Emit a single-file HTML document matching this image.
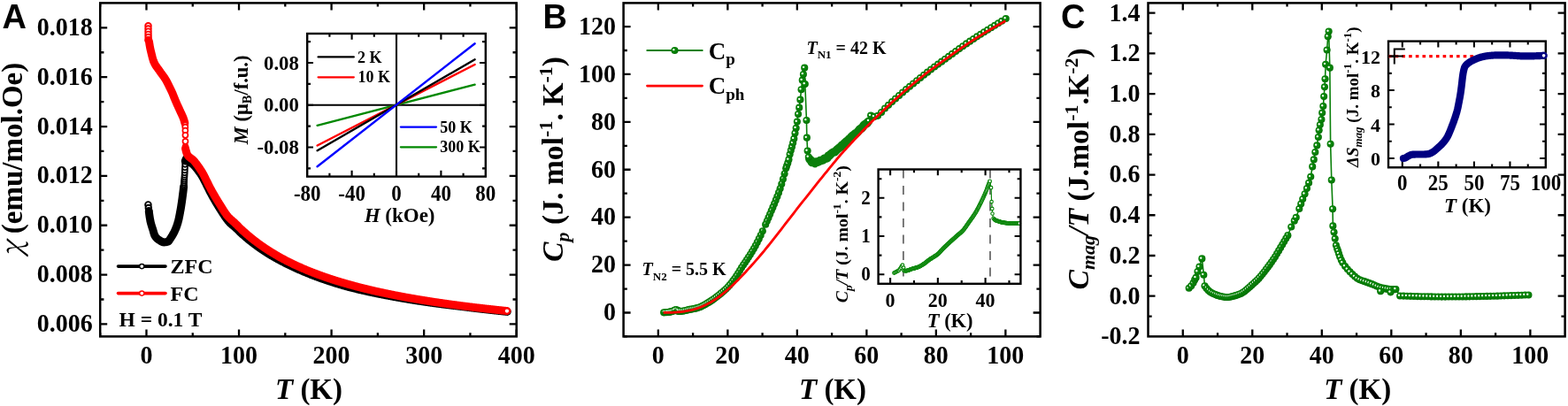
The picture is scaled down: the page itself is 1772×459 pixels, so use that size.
<!DOCTYPE html><html><head><meta charset="utf-8"><title>Figure</title><style>html,body{margin:0;padding:0;background:#fff;overflow:hidden}svg{display:block}</style></head><body><svg width="1772" height="459" viewBox="0 0 1772 459">
<defs><radialGradient id="sb" cx="0.45" cy="0.42" r="0.6"><stop offset="0" stop-color="#0d8f0d"/><stop offset="0.7" stop-color="#077d07"/><stop offset="1" stop-color="#036803"/></radialGradient><radialGradient id="sh"><stop offset="0" stop-color="#fff"/><stop offset="0.45" stop-color="#fff" stop-opacity="0.95"/><stop offset="1" stop-color="#fff" stop-opacity="0"/></radialGradient><symbol id="s" overflow="visible"><circle r="4.05" fill="url(#sb)"/><circle cx="-1.15" cy="-0.8" r="1.65" fill="url(#sh)"/></symbol><symbol id="b" overflow="visible"><circle r="4.05" fill="url(#sb)"/></symbol><symbol id="h" overflow="visible"><ellipse cx="-1.0" cy="-1.5" rx="0.5" ry="1.05" fill="#fff" fill-opacity="0.92" transform="rotate(15 -1.0 -1.5)"/></symbol><symbol id="t" overflow="visible"><circle r="1.75" fill="#fff" stroke="#0b870b" stroke-width="1.15"/></symbol></defs>
<rect width="1772" height="459" fill="#fff"/>
<g fill="#fff" stroke="#000" stroke-width="1.9"><circle cx="167.46" cy="231.4" r="3.3"/><circle cx="167.83" cy="235.02" r="3.3"/><circle cx="168.2" cy="238.32" r="3.3"/></g>
<path d="M168.3 239.18L168.51 240.79L168.72 242.34L168.93 243.83L169.14 245.25L169.35 246.59L169.56 247.84L169.76 248.98L169.97 250L170.18 250.93L170.39 251.8L170.6 252.61L170.81 253.39L171.02 254.12L171.23 254.82L171.44 255.49L171.65 256.14L171.86 256.78L172.06 257.42L172.27 258.05L172.48 258.68L172.69 259.33L172.9 260L173.11 260.7L173.32 261.44L173.53 262.19L173.74 262.94L173.95 263.67L174.16 264.37L174.37 265.02L174.57 265.61L174.78 266.1L174.99 266.5L175.2 266.83L175.41 267.15L175.62 267.45L175.83 267.74L176.04 268.02L176.25 268.28L176.46 268.53L176.67 268.77L176.87 269L177.08 269.22L177.29 269.42L177.5 269.62L177.71 269.81L177.92 270L178.13 270.17L178.34 270.34L178.55 270.5L178.76 270.66L178.97 270.81L179.17 270.95L179.38 271.09L179.59 271.23L179.8 271.37L180.01 271.5L180.22 271.63L180.43 271.77L180.64 271.9L180.85 272.04L181.06 272.17L181.27 272.31L181.47 272.44L181.68 272.57L181.89 272.69L182.1 272.82L182.31 272.94L182.52 273.06L182.73 273.17L182.94 273.27L183.15 273.37L183.36 273.46L183.57 273.55L183.78 273.63L183.98 273.7L184.19 273.76L184.4 273.81L184.61 273.85L184.82 273.88L185.03 273.89L185.24 273.9L185.45 273.9L185.66 273.89L185.87 273.88L186.08 273.87L186.28 273.85L186.49 273.84L186.7 273.81L186.91 273.79L187.12 273.76L187.33 273.72L187.54 273.69L187.75 273.65L187.96 273.6L188.17 273.56L188.38 273.51L188.58 273.45L188.79 273.4L189 273.34L189.21 273.28L189.42 273.21L189.63 273.14L189.84 273.07L190.05 273L190.26 272.89L190.47 272.73L190.68 272.52L190.88 272.26L191.09 271.97L191.3 271.66L191.51 271.33L191.72 270.99L191.93 270.65L192.14 270.32L192.35 270L192.56 269.69L192.77 269.38L192.98 269.07L193.19 268.75L193.39 268.43L193.6 268.11L193.81 267.78L194.02 267.45L194.23 267.11L194.44 266.77L194.65 266.43L194.86 266.08L195.07 265.72L195.28 265.36L195.49 265L195.69 264.62L195.9 264.24L196.11 263.85L196.32 263.46L196.53 263.06L196.74 262.64L196.95 262.23L197.16 261.8L197.37 261.36L197.58 260.92L197.79 260.46L197.99 260L198.2 259.52L198.41 259.03L198.62 258.53L198.83 258.01L199.04 257.48L199.25 256.92L199.46 256.36L199.67 255.77L199.88 255.17L200.09 254.54L200.29 253.9L200.5 253.24L200.71 252.56L200.92 251.85L201.13 251.13L201.34 250.38L201.55 249.61L201.76 248.77L201.97 247.88L202.18 246.93L202.39 245.94L202.6 244.91L202.8 243.85L203.01 242.77L203.22 241.67L203.43 240.56L203.64 239.44L203.85 238.29L204.06 237.11L204.27 235.89L204.48 234.64L204.69 233.36L204.9 232.04L205.1 230.69L205.31 229.3L205.52 227.86L205.73 226.38L205.94 224.85L206.15 223.27L206.36 221.65L206.57 220L206.78 218.35L206.99 216.69L207.2 214.97L207.4 213.12L207.61 211.1" fill="none" stroke="#000" stroke-width="9" stroke-linecap="round" stroke-linejoin="round"/>
<g fill="#fff" stroke="#000" stroke-width="1.7"><circle cx="207.72" cy="210" r="3.0"/><circle cx="207.86" cy="208.37" r="3.0"/><circle cx="208" cy="206.57" r="3.0"/><circle cx="208.15" cy="204.62" r="3.0"/><circle cx="208.29" cy="202.53" r="3.0"/><circle cx="208.43" cy="200.3" r="3.0"/><circle cx="208.57" cy="197.92" r="3.0"/><circle cx="208.72" cy="195.3" r="3.0"/><circle cx="208.86" cy="192.45" r="3.0"/><circle cx="209" cy="189.36" r="3.0"/><circle cx="209.14" cy="185.86" r="3.0"/><circle cx="209.29" cy="182" r="3.0"/></g>
<path d="M210.44 179.67L210.96 180.73L211.48 181.52L212.01 182.06L212.53 182.41L213.05 182.55L213.57 182.68L214.1 182.97L214.62 183.39L215.14 183.85L215.66 184.26L216.19 184.6L216.71 184.9L217.23 185.21L217.76 185.58L218.28 186.01L218.8 186.51L219.32 187.05L219.85 187.63L220.37 188.22L220.89 188.83L221.42 189.44L221.94 190.09L222.46 190.75L222.98 191.44L223.51 192.14L224.03 192.84L224.55 193.55L225.07 194.26L225.6 194.97L226.12 195.7L226.64 196.44L227.17 197.21L227.69 198.01L228.21 198.84L228.73 199.72L229.26 200.65L229.78 201.62L230.3 202.62L230.83 203.65L231.35 204.69L231.87 205.74L232.39 206.79L232.92 207.83L233.44 208.86L233.96 209.88L234.48 210.92L235.01 211.97L235.53 213.03L236.05 214.08L236.58 215.13L237.1 216.17L237.62 217.2L238.14 218.2L238.67 219.17L239.19 220.13L239.71 221.08L240.24 222.03L240.76 222.96L241.28 223.89L241.8 224.81L242.33 225.72L242.85 226.63L243.37 227.53L243.89 228.41L244.42 229.3L244.94 230.17L245.46 231.04L245.99 231.9L246.51 232.75L247.03 233.59L247.55 234.42L248.08 235.25L248.6 236.07L249.12 236.88L249.65 237.69L250.17 238.5L250.69 239.31L251.21 240.13L251.74 240.94L252.26 241.75L252.78 242.55L253.3 243.35L253.83 244.13L254.35 244.91L254.87 245.67L255.4 246.42L255.92 247.15L256.44 247.87L256.96 248.56L257.49 249.23L258.01 249.88L258.53 250.51L259.06 251.1L259.58 251.67L260.1 252.21L260.62 252.71L261.15 253.19L261.67 253.64L262.19 254.08L262.71 254.51L263.24 254.93L263.76 255.35L264.28 255.78L264.81 256.21L265.33 256.66L265.85 257.13L266.37 257.61L266.9 258.11L267.42 258.61L267.94 259.12L268.47 259.63L268.99 260.15L269.51 260.67L270.03 261.19L270.56 261.7L271.08 262.2L271.6 262.7L272.12 263.19L272.65 263.67L273.17 264.15L273.69 264.62L274.22 265.1L274.74 265.56L275.26 266.03L275.78 266.49L276.31 266.95L276.83 267.4L277.35 267.85L277.88 268.3L278.4 268.74L278.92 269.18L279.44 269.62L279.97 270.06L280.49 270.49L281.01 270.92L281.53 271.35L282.06 271.77L282.58 272.19L283.1 272.61L283.63 273.02L284.15 273.43L284.67 273.84L285.19 274.25L285.72 274.65L286.24 275.05L286.76 275.45L287.29 275.85L287.81 276.24L288.33 276.63L288.85 277.02L289.38 277.4L289.9 277.78L290.42 278.16L290.94 278.54L291.47 278.92L291.99 279.29L292.51 279.66L293.04 280.03L293.56 280.39L294.08 280.76L294.6 281.12L295.13 281.48L295.65 281.83L296.17 282.18L296.7 282.54L297.22 282.89L297.74 283.23L298.26 283.58L298.79 283.92L299.31 284.26L299.83 284.6L300.35 284.94L300.88 285.27L301.4 285.6L301.92 285.93L302.45 286.26L302.97 286.59L303.49 286.91L304.01 287.23L304.54 287.55L305.06 287.87L305.58 288.19L306.11 288.5L306.63 288.81L307.15 289.13L307.67 289.43L308.2 289.74L308.72 290.05L309.24 290.35L309.76 290.65L310.29 290.95L310.81 291.25L311.33 291.54L311.86 291.84L312.38 292.13L312.9 292.42L313.42 292.71L313.95 293L314.47 293.28L314.99 293.57L315.52 293.85L316.04 294.13L316.56 294.41L317.08 294.69L317.61 294.97L318.13 295.24L318.65 295.51L319.17 295.79L319.7 296.06L320.22 296.32L320.74 296.59L321.27 296.86L321.79 297.12L322.31 297.38L322.83 297.64L323.36 297.9L323.88 298.16L324.4 298.41L324.93 298.67L325.45 298.92L325.97 299.17L326.49 299.42L327.02 299.67L327.54 299.92L328.06 300.17L328.58 300.42L329.11 300.67L329.63 300.92L330.15 301.17L330.68 301.42L331.2 301.67L331.72 301.91L332.24 302.16L332.77 302.4L333.29 302.65L333.81 302.89L334.34 303.13L334.86 303.37L335.38 303.61L335.9 303.85L336.43 304.08L336.95 304.32L337.47 304.55L337.99 304.79L338.52 305.02L339.04 305.25L339.56 305.48L340.09 305.71L340.61 305.94L341.13 306.17L341.65 306.39L342.18 306.62L342.7 306.84L343.22 307.06L343.75 307.28L344.27 307.5L344.79 307.72L345.31 307.94L345.84 308.16L346.36 308.37L346.88 308.59L347.4 308.8L347.93 309.01L348.45 309.23L348.97 309.44L349.5 309.65L350.02 309.86L350.54 310.06L351.06 310.27L351.59 310.48L352.11 310.68L352.63 310.88L353.16 311.09L353.68 311.29L354.2 311.49L354.72 311.69L355.25 311.89L355.77 312.09L356.29 312.29L356.81 312.48L357.34 312.68L357.86 312.87L358.38 313.07L358.91 313.26L359.43 313.45L359.95 313.64L360.47 313.83L361 314.02L361.52 314.21L362.04 314.4L362.57 314.59L363.09 314.77L363.61 314.96L364.13 315.14L364.66 315.33L365.18 315.51L365.7 315.69L366.22 315.87L366.75 316.05L367.27 316.23L367.79 316.41L368.32 316.59L368.84 316.77L369.36 316.94L369.88 317.12L370.41 317.29L370.93 317.47L371.45 317.64L371.98 317.81L372.5 317.99L373.02 318.16L373.54 318.33L374.07 318.5L374.59 318.67L375.11 318.84L375.63 319L376.16 319.17L376.68 319.34L377.2 319.5L377.73 319.67L378.25 319.83L378.77 319.99L379.29 320.16L379.82 320.32L380.34 320.48L380.86 320.64L381.39 320.8L381.91 320.96L382.43 321.12L382.95 321.28L383.48 321.44L384 321.59L384.52 321.75L385.04 321.9L385.57 322.06L386.09 322.21L386.61 322.37L387.14 322.52L387.66 322.67L388.18 322.82L388.7 322.97L389.23 323.12L389.75 323.27L390.27 323.42L390.8 323.56L391.32 323.7L391.84 323.85L392.36 323.99L392.89 324.13L393.41 324.26L393.93 324.4L394.45 324.53L394.98 324.67L395.5 324.8L396.02 324.94L396.55 325.07L397.07 325.2L397.59 325.33L398.11 325.47L398.64 325.6L399.16 325.73L399.68 325.86L400.21 325.99L400.73 326.12L401.25 326.25L401.77 326.37L402.3 326.5L402.82 326.63L403.34 326.76L403.86 326.88L404.39 327.01L404.91 327.13L405.43 327.26L405.96 327.38L406.48 327.51L407 327.63L407.52 327.75L408.05 327.87L408.57 328L409.09 328.12L409.62 328.24L410.14 328.36L410.66 328.48L411.18 328.6L411.71 328.72L412.23 328.83L412.75 328.95L413.27 329.07L413.8 329.19L414.32 329.3L414.84 329.42L415.37 329.53L415.89 329.65L416.41 329.76L416.93 329.88L417.46 329.99L417.98 330.1L418.5 330.22L419.03 330.33L419.55 330.44L420.07 330.55L420.59 330.66L421.12 330.77L421.64 330.89L422.16 330.99L422.68 331.1L423.21 331.21L423.73 331.32L424.25 331.43L424.78 331.54L425.3 331.64L425.82 331.75L426.34 331.86L426.87 331.96L427.39 332.07L427.91 332.18L428.44 332.28L428.96 332.38L429.48 332.49L430 332.59L430.53 332.7L431.05 332.8L431.57 332.9L432.09 333L432.62 333.1L433.14 333.21L433.66 333.31L434.19 333.41L434.71 333.51L435.23 333.61L435.75 333.71L436.28 333.81L436.8 333.91L437.32 334L437.85 334.1L438.37 334.2L438.89 334.3L439.41 334.39L439.94 334.49L440.46 334.59L440.98 334.69L441.5 334.78L442.03 334.88L442.55 334.98L443.07 335.07L443.6 335.17L444.12 335.27L444.64 335.36L445.16 335.46L445.69 335.56L446.21 335.65L446.73 335.75L447.26 335.84L447.78 335.94L448.3 336.03L448.82 336.12L449.35 336.22L449.87 336.31L450.39 336.4L450.91 336.5L451.44 336.59L451.96 336.68L452.48 336.77L453.01 336.86L453.53 336.95L454.05 337.04L454.57 337.13L455.1 337.22L455.62 337.31L456.14 337.4L456.67 337.49L457.19 337.58L457.71 337.67L458.23 337.76L458.76 337.84L459.28 337.93L459.8 338.02L460.32 338.11L460.85 338.19L461.37 338.28L461.89 338.36L462.42 338.45L462.94 338.54L463.46 338.62L463.98 338.71L464.51 338.79L465.03 338.87L465.55 338.96L466.08 339.04L466.6 339.12L467.12 339.21L467.64 339.29L468.17 339.37L468.69 339.46L469.21 339.54L469.73 339.62L470.26 339.7L470.78 339.78L471.3 339.86L471.83 339.94L472.35 340.02L472.87 340.1L473.39 340.18L473.92 340.26L474.44 340.34L474.96 340.42L475.49 340.5L476.01 340.58L476.53 340.66L477.05 340.74L477.58 340.81L478.1 340.89L478.62 340.97L479.14 341.05L479.67 341.12L480.19 341.2L480.71 341.27L481.24 341.35L481.76 341.43L482.28 341.5L482.8 341.58L483.33 341.65L483.85 341.73L484.37 341.8L484.9 341.88L485.42 341.95L485.94 342.02L486.46 342.1L486.99 342.17L487.51 342.24L488.03 342.32L488.55 342.39L489.08 342.46L489.6 342.53L490.12 342.6L490.65 342.68L491.17 342.75L491.69 342.82L492.21 342.89L492.74 342.96L493.26 343.03L493.78 343.1L494.31 343.17L494.83 343.24L495.35 343.3L495.87 343.37L496.4 343.44L496.92 343.51L497.44 343.58L497.96 343.65L498.49 343.71L499.01 343.78L499.53 343.85L500.06 343.91L500.58 343.98L501.1 344.05L501.62 344.11L502.15 344.18L502.67 344.25L503.19 344.31L503.72 344.38L504.24 344.44L504.76 344.51L505.28 344.57L505.81 344.64L506.33 344.7L506.85 344.77L507.37 344.83L507.9 344.89L508.42 344.96L508.94 345.02L509.47 345.08L509.99 345.15L510.51 345.21L511.03 345.27L511.56 345.33L512.08 345.4L512.6 345.46L513.13 345.52L513.65 345.58L514.17 345.64L514.69 345.7L515.22 345.76L515.74 345.83L516.26 345.89L516.78 345.95L517.31 346.01L517.83 346.07L518.35 346.13L518.88 346.2L519.4 346.26L519.92 346.32L520.44 346.38L520.97 346.44L521.49 346.51L522.01 346.57L522.54 346.63L523.06 346.7L523.58 346.76L524.1 346.83L524.63 346.89L525.15 346.96L525.67 347.02L526.19 347.09L526.72 347.16L527.24 347.22L527.76 347.29L528.29 347.35L528.81 347.42L529.33 347.48L529.85 347.55L530.38 347.61L530.9 347.68L531.42 347.74L531.95 347.8L532.47 347.87L532.99 347.93L533.51 348L534.04 348.06L534.56 348.12L535.08 348.18L535.6 348.25L536.13 348.31L536.65 348.37L537.17 348.43L537.7 348.5L538.22 348.56L538.74 348.62L539.26 348.68L539.79 348.74L540.31 348.81L540.83 348.87L541.36 348.93L541.88 348.99L542.4 349.05L542.92 349.11L543.45 349.17L543.97 349.23L544.49 349.29L545.01 349.35L545.54 349.41L546.06 349.47L546.58 349.53L547.11 349.59L547.63 349.65L548.15 349.71L548.67 349.77L549.2 349.82L549.72 349.88L550.24 349.94L550.77 350L551.29 350.06L551.81 350.12L552.33 350.17L552.86 350.23L553.38 350.29L553.9 350.35L554.42 350.4L554.95 350.46L555.47 350.52L555.99 350.58L556.52 350.63L557.04 350.69L557.56 350.75L558.08 350.8L558.61 350.86L559.13 350.91L559.65 350.97L560.18 351.03L560.7 351.08L561.22 351.14L561.74 351.19L562.27 351.25L562.79 351.3L563.31 351.36L563.83 351.41L564.36 351.47L564.88 351.52L565.4 351.58L565.93 351.63L566.45 351.69L566.97 351.74L567.49 351.79L568.02 351.85L568.54 351.9L569.06 351.95L569.59 352.01L570.11 352.06L570.63 352.11L571.15 352.17L571.68 352.22L572.2 352.27L572.72 352.33L573.24 352.38" fill="none" stroke="#000" stroke-width="9" stroke-linecap="round" stroke-linejoin="round"/>
<path d="M209.29 182L210.44 179.67" fill="none" stroke="#000" stroke-width="9" stroke-linecap="round" stroke-linejoin="round"/>
<g fill="#fff" stroke="#000" stroke-width="1.7"><circle cx="573.24" cy="352.38" r="3.0"/></g>
<g fill="#fff" stroke="#f00" stroke-width="1.9"><circle cx="167.52" cy="29.3" r="3.3"/><circle cx="167.52" cy="32.5" r="3.3"/><circle cx="167.54" cy="35.7" r="3.3"/><circle cx="167.56" cy="38.9" r="3.3"/><circle cx="167.62" cy="42.1" r="3.3"/><circle cx="167.78" cy="45.3" r="3.3"/></g>
<path d="M167.78 45.3L168.51 47.3L168.72 48.68L168.93 50L169.14 51.28L169.35 52.46L169.56 53.57L169.76 54.61L169.97 55.59L170.18 56.52L170.39 57.42L170.6 58.29L170.81 59.14L171.02 60L171.23 60.86L171.44 61.72L171.65 62.57L171.86 63.41L172.06 64.24L172.27 65.05L172.48 65.83L172.69 66.59L172.9 67.31L173.11 67.99L173.32 68.63L173.53 69.22L173.74 69.75L173.95 70.24L174.16 70.7L174.37 71.14L174.57 71.57L174.78 71.98L174.99 72.37L175.2 72.75L175.41 73.12L175.62 73.48L175.83 73.82L176.04 74.16L176.25 74.48L176.46 74.8L176.67 75.11L176.87 75.41L177.08 75.7L177.29 76L177.5 76.28L177.71 76.56L177.92 76.84L178.13 77.12L178.34 77.4L178.55 77.68L178.76 77.95L178.97 78.23L179.17 78.52L179.38 78.8L179.59 79.09L179.8 79.39L180.01 79.69L180.22 80L180.43 80.31L180.64 80.62L180.85 80.92L181.06 81.22L181.27 81.51L181.47 81.81L181.68 82.1L181.89 82.38L182.1 82.67L182.31 82.95L182.52 83.24L182.73 83.52L182.94 83.8L183.15 84.08L183.36 84.36L183.57 84.64L183.78 84.92L183.98 85.21L184.19 85.49L184.4 85.78L184.61 86.07L184.82 86.36L185.03 86.65L185.24 86.95L185.45 87.25L185.66 87.56L185.87 87.87L186.08 88.18L186.28 88.5L186.49 88.82L186.7 89.15L186.91 89.49L187.12 89.83L187.33 90.17L187.54 90.53L187.75 90.9L187.96 91.27L188.17 91.65L188.38 92.03L188.58 92.42L188.79 92.82L189 93.22L189.21 93.63L189.42 94.04L189.63 94.46L189.84 94.88L190.05 95.3L190.26 95.72L190.47 96.15L190.68 96.58L190.88 97L191.09 97.43L191.3 97.86L191.51 98.29L191.72 98.72L191.93 99.15L192.14 99.58L192.35 100L192.56 100.42L192.77 100.84L192.98 101.26L193.19 101.68L193.39 102.1L193.6 102.53L193.81 102.96L194.02 103.4L194.23 103.84L194.44 104.3L194.65 104.76L194.86 105.24L195.07 105.74L195.28 106.26L195.49 106.79L195.69 107.32L195.9 107.87L196.11 108.41L196.32 108.95L196.53 109.48L196.74 110L196.95 110.51L197.16 111.02L197.37 111.53L197.58 112.03L197.79 112.54L197.99 113.04L198.2 113.53L198.41 114.02L198.62 114.51L198.83 115L199.04 115.48L199.25 115.96L199.46 116.44L199.67 116.91L199.88 117.38L200.09 117.84L200.29 118.31L200.5 118.77L200.71 119.23L200.92 119.69L201.13 120.15L201.34 120.61L201.55 121.07L201.76 121.53L201.97 121.99L202.18 122.44L202.39 122.91L202.6 123.37L202.8 123.83L203.01 124.3L203.22 124.77L203.43 125.23L203.64 125.69L203.85 126.15L204.06 126.59L204.27 127.03L204.48 127.46L204.69 127.9L204.9 128.33L205.1 128.76L205.31 129.2L205.52 129.64L205.73 130.09L205.94 130.55L206.15 131.01L206.36 131.49L206.57 131.98L206.78 132.49L206.99 133.01L207.2 133.55L207.4 134.12L207.61 134.7L207.82 135.31L208.03 135.99L208.24 136.72L208.45 137.49L208.66 138.28L208.87 139.09" fill="none" stroke="#f00" stroke-width="9" stroke-linecap="round" stroke-linejoin="round"/>
<g fill="#fff" stroke="#f00" stroke-width="1.7"><circle cx="209.29" cy="141.5" r="3.0"/><circle cx="209.34" cy="143.7" r="3.0"/><circle cx="209.39" cy="147.6" r="3.0"/><circle cx="209.44" cy="152.8" r="3.0"/><circle cx="209.5" cy="159.8" r="3.0"/><circle cx="209.55" cy="165.9" r="3.0"/></g>
<path d="M209.6 168L210.12 170.35L210.65 172.2L211.17 173.56L211.69 174.69L212.21 175.6L212.74 176.3L213.26 176.88L213.78 177.37L214.31 177.82L214.83 178.24L215.35 178.67L215.87 179.06L216.4 179.41L216.92 179.76L217.44 180.12L217.96 180.53L218.49 181L219.01 181.53L219.53 182.12L220.06 182.75L220.58 183.41L221.1 184.1L221.62 184.8L222.15 185.5L222.67 186.2L223.19 186.91L223.72 187.62L224.24 188.35L224.76 189.09L225.28 189.84L225.81 190.61L226.33 191.39L226.85 192.19L227.37 193L227.9 193.84L228.42 194.69L228.94 195.56L229.47 196.45L229.99 197.38L230.51 198.37L231.03 199.43L231.56 200.51L232.08 201.58L232.6 202.63L233.13 203.67L233.65 204.73L234.17 205.79L234.69 206.85L235.22 207.9L235.74 208.95L236.26 209.99L236.78 211.02L237.31 212.03L237.83 213.03L238.35 214L238.88 214.96L239.4 215.9L239.92 216.84L240.44 217.77L240.97 218.69L241.49 219.6L242.01 220.5L242.54 221.4L243.06 222.29L243.58 223.17L244.1 224.04L244.63 224.91L245.15 225.77L245.67 226.63L246.19 227.48L246.72 228.32L247.24 229.16L247.76 230L248.29 230.83L248.81 231.67L249.33 232.52L249.85 233.37L250.38 234.22L250.9 235.07L251.42 235.91L251.95 236.75L252.47 237.59L252.99 238.41L253.51 239.21L254.04 240.01L254.56 240.78L255.08 241.53L255.6 242.26L256.13 242.97L256.65 243.64L257.17 244.29L257.7 244.9L258.22 245.48L258.74 246.03L259.26 246.56L259.79 247.07L260.31 247.56L260.83 248.04L261.36 248.5L261.88 248.96L262.4 249.41L262.92 249.86L263.45 250.31L263.97 250.76L264.49 251.22L265.01 251.69L265.54 252.17L266.06 252.67L266.58 253.18L267.11 253.69L267.63 254.22L268.15 254.74L268.67 255.27L269.2 255.79L269.72 256.32L270.24 256.84L270.77 257.36L271.29 257.87L271.81 258.38L272.33 258.88L272.86 259.37L273.38 259.86L273.9 260.34L274.42 260.82L274.95 261.3L275.47 261.77L275.99 262.25L276.52 262.71L277.04 263.18L277.56 263.64L278.08 264.1L278.61 264.55L279.13 265.01L279.65 265.46L280.18 265.9L280.7 266.34L281.22 266.78L281.74 267.22L282.27 267.66L282.79 268.09L283.31 268.52L283.83 268.94L284.36 269.36L284.88 269.78L285.4 270.2L285.93 270.61L286.45 271.03L286.97 271.44L287.49 271.84L288.02 272.25L288.54 272.65L289.06 273.05L289.59 273.44L290.11 273.83L290.63 274.23L291.15 274.61L291.68 275L292.2 275.38L292.72 275.76L293.24 276.14L293.77 276.52L294.29 276.89L294.81 277.27L295.34 277.63L295.86 278L296.38 278.37L296.9 278.73L297.43 279.09L297.95 279.45L298.47 279.8L299 280.16L299.52 280.51L300.04 280.86L300.56 281.21L301.09 281.55L301.61 281.89L302.13 282.24L302.65 282.58L303.18 282.91L303.7 283.25L304.22 283.58L304.75 283.91L305.27 284.24L305.79 284.57L306.31 284.89L306.84 285.22L307.36 285.54L307.88 285.86L308.41 286.18L308.93 286.49L309.45 286.81L309.97 287.12L310.5 287.43L311.02 287.74L311.54 288.05L312.06 288.35L312.59 288.66L313.11 288.96L313.63 289.26L314.16 289.56L314.68 289.86L315.2 290.15L315.72 290.45L316.25 290.74L316.77 291.03L317.29 291.32L317.82 291.61L318.34 291.89L318.86 292.18L319.38 292.46L319.91 292.74L320.43 293.02L320.95 293.3L321.47 293.58L322 293.85L322.52 294.12L323.04 294.4L323.57 294.67L324.09 294.94L324.61 295.21L325.13 295.47L325.66 295.74L326.18 296L326.7 296.26L327.23 296.53L327.75 296.79L328.27 297.04L328.79 297.3L329.32 297.56L329.84 297.81L330.36 298.06L330.88 298.32L331.41 298.57L331.93 298.82L332.45 299.06L332.98 299.31L333.5 299.56L334.02 299.8L334.54 300.04L335.07 300.29L335.59 300.53L336.11 300.77L336.64 301L337.16 301.24L337.68 301.48L338.2 301.71L338.73 301.94L339.25 302.18L339.77 302.41L340.29 302.64L340.82 302.87L341.34 303.1L341.86 303.32L342.39 303.55L342.91 303.77L343.43 304L343.95 304.22L344.48 304.44L345 304.66L345.52 304.88L346.05 305.1L346.57 305.31L347.09 305.53L347.61 305.75L348.14 305.96L348.66 306.17L349.18 306.39L349.7 306.6L350.23 306.81L350.75 307.02L351.27 307.22L351.8 307.43L352.32 307.64L352.84 307.84L353.36 308.05L353.89 308.25L354.41 308.45L354.93 308.65L355.46 308.85L355.98 309.05L356.5 309.25L357.02 309.45L357.55 309.65L358.07 309.84L358.59 310.04L359.11 310.23L359.64 310.43L360.16 310.62L360.68 310.81L361.21 311L361.73 311.19L362.25 311.38L362.77 311.57L363.3 311.76L363.82 311.94L364.34 312.13L364.87 312.32L365.39 312.5L365.91 312.68L366.43 312.87L366.96 313.05L367.48 313.23L368 313.41L368.52 313.59L369.05 313.77L369.57 313.95L370.09 314.12L370.62 314.3L371.14 314.47L371.66 314.65L372.18 314.82L372.71 315L373.23 315.17L373.75 315.34L374.28 315.51L374.8 315.68L375.32 315.85L375.84 316.02L376.37 316.19L376.89 316.36L377.41 316.53L377.93 316.69L378.46 316.86L378.98 317.02L379.5 317.19L380.03 317.35L380.55 317.51L381.07 317.68L381.59 317.84L382.12 318L382.64 318.16L383.16 318.32L383.69 318.48L384.21 318.63L384.73 318.79L385.25 318.95L385.78 319.11L386.3 319.26L386.82 319.42L387.34 319.57L387.87 319.72L388.39 319.88L388.91 320.03L389.44 320.18L389.96 320.33L390.48 320.49L391 320.64L391.53 320.79L392.05 320.93L392.57 321.08L393.1 321.23L393.62 321.38L394.14 321.52L394.66 321.67L395.19 321.82L395.71 321.96L396.23 322.11L396.75 322.25L397.28 322.39L397.8 322.54L398.32 322.68L398.85 322.82L399.37 322.96L399.89 323.1L400.41 323.24L400.94 323.38L401.46 323.52L401.98 323.66L402.51 323.8L403.03 323.93L403.55 324.07L404.07 324.21L404.6 324.34L405.12 324.48L405.64 324.61L406.16 324.75L406.69 324.88L407.21 325.02L407.73 325.15L408.26 325.28L408.78 325.41L409.3 325.54L409.82 325.67L410.35 325.81L410.87 325.94L411.39 326.06L411.92 326.19L412.44 326.32L412.96 326.45L413.48 326.58L414.01 326.71L414.53 326.83L415.05 326.96L415.57 327.08L416.1 327.21L416.62 327.33L417.14 327.46L417.67 327.58L418.19 327.71L418.71 327.83L419.23 327.95L419.76 328.07L420.28 328.2L420.8 328.32L421.33 328.44L421.85 328.56L422.37 328.68L422.89 328.8L423.42 328.92L423.94 329.04L424.46 329.15L424.98 329.27L425.51 329.39L426.03 329.51L426.55 329.62L427.08 329.74L427.6 329.86L428.12 329.97L428.64 330.09L429.17 330.2L429.69 330.32L430.21 330.43L430.74 330.54L431.26 330.66L431.78 330.77L432.3 330.88L432.83 330.99L433.35 331.1L433.87 331.22L434.39 331.33L434.92 331.44L435.44 331.55L435.96 331.66L436.49 331.77L437.01 331.88L437.53 331.98L438.05 332.09L438.58 332.2L439.1 332.31L439.62 332.41L440.15 332.52L440.67 332.63L441.19 332.73L441.71 332.84L442.24 332.95L442.76 333.05L443.28 333.15L443.8 333.26L444.33 333.36L444.85 333.47L445.37 333.57L445.9 333.67L446.42 333.78L446.94 333.88L447.46 333.98L447.99 334.08L448.51 334.18L449.03 334.28L449.56 334.38L450.08 334.49L450.6 334.59L451.12 334.69L451.65 334.78L452.17 334.88L452.69 334.98L453.21 335.08L453.74 335.18L454.26 335.28L454.78 335.37L455.31 335.47L455.83 335.57L456.35 335.66L456.87 335.76L457.4 335.86L457.92 335.95L458.44 336.05L458.97 336.14L459.49 336.24L460.01 336.33L460.53 336.43L461.06 336.52L461.58 336.61L462.1 336.71L462.62 336.8L463.15 336.89L463.67 336.98L464.19 337.08L464.72 337.17L465.24 337.26L465.76 337.35L466.28 337.44L466.81 337.53L467.33 337.62L467.85 337.71L468.38 337.8L468.9 337.89L469.42 337.98L469.94 338.07L470.47 338.16L470.99 338.25L471.51 338.34L472.03 338.43L472.56 338.51L473.08 338.6L473.6 338.69L474.13 338.77L474.65 338.86L475.17 338.95L475.69 339.03L476.22 339.12L476.74 339.21L477.26 339.29L477.79 339.38L478.31 339.46L478.83 339.55L479.35 339.63L479.88 339.71L480.4 339.8L480.92 339.88L481.44 339.96L481.97 340.05L482.49 340.13L483.01 340.21L483.54 340.3L484.06 340.38L484.58 340.46L485.1 340.54L485.63 340.62L486.15 340.7L486.67 340.79L487.2 340.87L487.72 340.95L488.24 341.03L488.76 341.11L489.29 341.19L489.81 341.27L490.33 341.35L490.85 341.42L491.38 341.5L491.9 341.58L492.42 341.66L492.95 341.74L493.47 341.82L493.99 341.89L494.51 341.97L495.04 342.05L495.56 342.13L496.08 342.2L496.61 342.28L497.13 342.36L497.65 342.43L498.17 342.51L498.7 342.58L499.22 342.66L499.74 342.74L500.26 342.81L500.79 342.89L501.31 342.96L501.83 343.04L502.36 343.11L502.88 343.18L503.4 343.26L503.92 343.33L504.45 343.4L504.97 343.48L505.49 343.55L506.02 343.62L506.54 343.7L507.06 343.77L507.58 343.84L508.11 343.91L508.63 343.99L509.15 344.06L509.67 344.13L510.2 344.2L510.72 344.27L511.24 344.34L511.77 344.41L512.29 344.48L512.81 344.55L513.33 344.62L513.86 344.69L514.38 344.76L514.9 344.83L515.43 344.9L515.95 344.97L516.47 345.04L516.99 345.11L517.52 345.18L518.04 345.25L518.56 345.32L519.08 345.38L519.61 345.45L520.13 345.52L520.65 345.59L521.18 345.65L521.7 345.72L522.22 345.79L522.74 345.86L523.27 345.92L523.79 345.99L524.31 346.06L524.84 346.12L525.36 346.19L525.88 346.25L526.4 346.32L526.93 346.38L527.45 346.45L527.97 346.52L528.49 346.58L529.02 346.64L529.54 346.71L530.06 346.77L530.59 346.84L531.11 346.9L531.63 346.97L532.15 347.03L532.68 347.09L533.2 347.16L533.72 347.22L534.25 347.28L534.77 347.35L535.29 347.41L535.81 347.47L536.34 347.54L536.86 347.6L537.38 347.66L537.9 347.72L538.43 347.78L538.95 347.85L539.47 347.91L540 347.97L540.52 348.03L541.04 348.09L541.56 348.15L542.09 348.21L542.61 348.27L543.13 348.33L543.66 348.39L544.18 348.45L544.7 348.51L545.22 348.57L545.75 348.63L546.27 348.69L546.79 348.75L547.31 348.81L547.84 348.87L548.36 348.93L548.88 348.99L549.41 349.05L549.93 349.11L550.45 349.16L550.97 349.22L551.5 349.28L552.02 349.34L552.54 349.4L553.07 349.45L553.59 349.51L554.11 349.57L554.63 349.63L555.16 349.68L555.68 349.74L556.2 349.8L556.72 349.85L557.25 349.91L557.77 349.97L558.29 350.02L558.82 350.08L559.34 350.14L559.86 350.19L560.38 350.25L560.91 350.3L561.43 350.36L561.95 350.41L562.48 350.47L563 350.52L563.52 350.58L564.04 350.63L564.57 350.69L565.09 350.74L565.61 350.8L566.13 350.85L566.66 350.91L567.18 350.96L567.7 351.01L568.23 351.07L568.75 351.12L569.27 351.18L569.79 351.23L570.32 351.28L570.84 351.34L571.36 351.39L571.89 351.44L572.41 351.49L572.93 351.55" fill="none" stroke="#f00" stroke-width="9" stroke-linecap="round" stroke-linejoin="round"/>
<g fill="#fff" stroke="#f00" stroke-width="1.7"><circle cx="572.93" cy="351.55" r="3.0"/></g>
<rect x="113.2" y="3.4" width="470.5" height="377" fill="none" stroke="#000" stroke-width="2.5" stroke-linejoin="miter"/>
<path d="M165.48 380.4v-8M165.48 3.4v8M270.03 380.4v-8M270.03 3.4v8M374.59 380.4v-8M374.59 3.4v8M479.14 380.4v-8M479.14 3.4v8M583.7 380.4v-8M583.7 3.4v8M113.2 380.4v-4.2M113.2 3.4v4.2M217.76 380.4v-4.2M217.76 3.4v4.2M322.31 380.4v-4.2M322.31 3.4v4.2M426.87 380.4v-4.2M426.87 3.4v4.2M531.42 380.4v-4.2M531.42 3.4v4.2M113.2 366.44h8M583.7 366.44h-8M113.2 310.59h8M583.7 310.59h-8M113.2 254.73h8M583.7 254.73h-8M113.2 198.88h8M583.7 198.88h-8M113.2 143.03h8M583.7 143.03h-8M113.2 87.18h8M583.7 87.18h-8M113.2 31.33h8M583.7 31.33h-8M113.2 338.51h4.2M583.7 338.51h-4.2M113.2 282.66h4.2M583.7 282.66h-4.2M113.2 226.81h4.2M583.7 226.81h-4.2M113.2 170.96h4.2M583.7 170.96h-4.2M113.2 115.1h4.2M583.7 115.1h-4.2M113.2 59.25h4.2M583.7 59.25h-4.2" stroke="#000" stroke-width="2.3" fill="none"/>
<text transform="translate(104.8 374.94) scale(1 1.055)" font-family="'Liberation Serif','Times New Roman',serif" font-size="28" font-weight="bold" text-anchor="end">0.006</text>
<text transform="translate(104.8 319.09) scale(1 1.055)" font-family="'Liberation Serif','Times New Roman',serif" font-size="28" font-weight="bold" text-anchor="end">0.008</text>
<text transform="translate(104.8 263.23) scale(1 1.055)" font-family="'Liberation Serif','Times New Roman',serif" font-size="28" font-weight="bold" text-anchor="end">0.010</text>
<text transform="translate(104.8 207.38) scale(1 1.055)" font-family="'Liberation Serif','Times New Roman',serif" font-size="28" font-weight="bold" text-anchor="end">0.012</text>
<text transform="translate(104.8 151.53) scale(1 1.055)" font-family="'Liberation Serif','Times New Roman',serif" font-size="28" font-weight="bold" text-anchor="end">0.014</text>
<text transform="translate(104.8 95.68) scale(1 1.055)" font-family="'Liberation Serif','Times New Roman',serif" font-size="28" font-weight="bold" text-anchor="end">0.016</text>
<text transform="translate(104.8 39.83) scale(1 1.055)" font-family="'Liberation Serif','Times New Roman',serif" font-size="28" font-weight="bold" text-anchor="end">0.018</text>
<text transform="translate(165.48 410.6) scale(1 1.055)" font-family="'Liberation Serif','Times New Roman',serif" font-size="28" font-weight="bold" text-anchor="middle">0</text>
<text transform="translate(270.03 410.6) scale(1 1.055)" font-family="'Liberation Serif','Times New Roman',serif" font-size="28" font-weight="bold" text-anchor="middle">100</text>
<text transform="translate(374.59 410.6) scale(1 1.055)" font-family="'Liberation Serif','Times New Roman',serif" font-size="28" font-weight="bold" text-anchor="middle">200</text>
<text transform="translate(479.14 410.6) scale(1 1.055)" font-family="'Liberation Serif','Times New Roman',serif" font-size="28" font-weight="bold" text-anchor="middle">300</text>
<text transform="translate(583.7 410.6) scale(1 1.055)" font-family="'Liberation Serif','Times New Roman',serif" font-size="28" font-weight="bold" text-anchor="middle">400</text>
<text x="349" y="450.6" font-family="'Liberation Serif','Times New Roman',serif" font-size="33" font-weight="bold" text-anchor="middle"><tspan font-style="italic">T</tspan> (K)</text>
<text transform="translate(25 180.5) rotate(-90)" font-family="'Liberation Serif','Times New Roman',serif" font-size="33" font-weight="bold" text-anchor="middle"><tspan font-family="&quot;Noto Serif CJK SC&quot;,&quot;Liberation Serif&quot;,serif" font-style="italic" font-weight="normal">&#967;</tspan> (emu/mol.Oe)</text>
<text x="2.5" y="32" font-family="'Liberation Sans',Arial,sans-serif" font-size="38" font-weight="bold" text-anchor="start">A</text>
<path d="M133.5 301.1H187" stroke="#000" stroke-width="3.6" stroke-linecap="round"/>
<circle cx="160.3" cy="301.1" r="2.6" fill="#fff" stroke="#000" stroke-width="1.4"/>
<path d="M133.5 331.6H187" stroke="#f00" stroke-width="3.6" stroke-linecap="round"/>
<circle cx="160.3" cy="331.6" r="2.6" fill="#fff" stroke="#f00" stroke-width="1.4"/>
<text x="192.5" y="309.4" font-family="'Liberation Serif','Times New Roman',serif" font-size="24" font-weight="bold" text-anchor="start">ZFC</text>
<text x="192.5" y="339.9" font-family="'Liberation Serif','Times New Roman',serif" font-size="24" font-weight="bold" text-anchor="start">FC</text>
<text x="134.5" y="369.3" font-family="'Liberation Serif','Times New Roman',serif" font-size="23.5" font-weight="bold" text-anchor="start">H = 0.1 T</text>
<path d="M347.2 118.75H548.8M448 38V199.6" stroke="#000" stroke-width="2.1"/>
<path d="M358.6 141.8L536.6 95.7" stroke="#080" stroke-width="2.4" stroke-linecap="round"/>
<path d="M358.6 164.55L536.6 72.95" stroke="#f00" stroke-width="2.4" stroke-linecap="round"/>
<path d="M358.6 170.25L536.6 67.25" stroke="#000" stroke-width="2.4" stroke-linecap="round"/>
<path d="M358.6 188.25L536.6 49.25" stroke="#00f" stroke-width="2.4" stroke-linecap="round"/>
<rect x="347.2" y="38" width="201.6" height="161.6" fill="none" stroke="#000" stroke-width="2.4" stroke-linejoin="miter"/>
<path d="M397.6 199.6v-6.8M397.6 38v6.8M448 199.6v-6.8M448 38v6.8M498.4 199.6v-6.8M498.4 38v6.8M372.4 199.6v-3.8M372.4 38v3.8M422.8 199.6v-3.8M422.8 38v3.8M473.2 199.6v-3.8M473.2 38v3.8M523.6 199.6v-3.8M523.6 38v3.8M347.2 166.5h6.8M548.8 166.5h-6.8M347.2 118.75h6.8M548.8 118.75h-6.8M347.2 71h6.8M548.8 71h-6.8M347.2 190.38h3.8M548.8 190.38h-3.8M347.2 142.63h3.8M548.8 142.63h-3.8M347.2 94.87h3.8M548.8 94.87h-3.8M347.2 47.12h3.8M548.8 47.12h-3.8" stroke="#000" stroke-width="2.1" fill="none"/>
<text transform="translate(337.9 78.6) scale(1 1.02)" font-family="'Liberation Serif','Times New Roman',serif" font-size="22.8" font-weight="bold" text-anchor="end">0.08</text>
<text transform="translate(337.9 126.35) scale(1 1.02)" font-family="'Liberation Serif','Times New Roman',serif" font-size="22.8" font-weight="bold" text-anchor="end">0.00</text>
<text transform="translate(337.9 174.1) scale(1 1.02)" font-family="'Liberation Serif','Times New Roman',serif" font-size="22.8" font-weight="bold" text-anchor="end">-0.08</text>
<text transform="translate(347.2 226.7) scale(1 1.055)" font-family="'Liberation Serif','Times New Roman',serif" font-size="23" font-weight="bold" text-anchor="middle">-80</text>
<text transform="translate(397.6 226.7) scale(1 1.055)" font-family="'Liberation Serif','Times New Roman',serif" font-size="23" font-weight="bold" text-anchor="middle">-40</text>
<text transform="translate(448 226.7) scale(1 1.055)" font-family="'Liberation Serif','Times New Roman',serif" font-size="23" font-weight="bold" text-anchor="middle">0</text>
<text transform="translate(498.4 226.7) scale(1 1.055)" font-family="'Liberation Serif','Times New Roman',serif" font-size="23" font-weight="bold" text-anchor="middle">40</text>
<text transform="translate(548.8 226.7) scale(1 1.055)" font-family="'Liberation Serif','Times New Roman',serif" font-size="23" font-weight="bold" text-anchor="middle">80</text>
<text x="451.6" y="251.2" font-family="'Liberation Serif','Times New Roman',serif" font-size="23" font-weight="bold" text-anchor="middle"><tspan font-style="italic">H</tspan> (kOe)</text>
<text transform="translate(279.7 112.9) rotate(-90)" font-family="'Liberation Serif','Times New Roman',serif" font-size="22.5" font-weight="bold" text-anchor="middle"><tspan font-style="italic">M</tspan> (&#956;<tspan font-size="14.5" dy="4.5">B</tspan><tspan dy="-4.5">/f.u.)</tspan></text>
<path d="M359.6 64.4H399.8M359.6 87.3" stroke="#000" stroke-width="2.3" stroke-linecap="round"/><path d="M359.6 87.3H399.8" stroke="#f00" stroke-width="2.3" stroke-linecap="round"/>
<path d="M452.9 143.6H493" stroke="#00f" stroke-width="2.3" stroke-linecap="round"/><path d="M452.9 166.3H493" stroke="#080" stroke-width="2.3" stroke-linecap="round"/>
<text x="404" y="70.7" font-family="'Liberation Serif','Times New Roman',serif" font-size="18" font-weight="bold" text-anchor="start">2 K</text>
<text x="404.5" y="93" font-family="'Liberation Serif','Times New Roman',serif" font-size="18" font-weight="bold" text-anchor="start">10 K</text>
<text x="497.2" y="149.8" font-family="'Liberation Serif','Times New Roman',serif" font-size="18" font-weight="bold" text-anchor="start">50 K</text>
<text x="497.2" y="172.3" font-family="'Liberation Serif','Times New Roman',serif" font-size="18" font-weight="bold" text-anchor="start">300 K</text>
<path d="M750.13 353.34L751.7 353.23L753.07 353.1L754.45 352.96L755.82 352.8L757 352.63L758.18 352.42L759.75 351.98L761.32 351.4L762.69 350.62L764.06 350.1L765.83 350.83L766.42 351.88L767.79 351.88L769.36 351.88L771.33 351.72L773.29 351.36L775.25 350.94L777.21 350.38L779.18 349.92L781.14 349.63L783.1 349.32L785.06 348.91L787.02 348.42L788.99 347.85L790.95 347.18L792.91 346.34L794.88 345.32L796.84 344.23L798.8 343.12L800.76 341.91L802.73 340.66L804.69 339.38L806.65 338.04L808.61 336.62L810.58 335.12L812.54 333.54L814.5 331.9L816.46 330.23L818.42 328.53L820.39 326.74L822.35 324.8L824.31 322.63L826.27 320.22L828.24 317.64L830.2 314.94L832.16 312.04L834.12 308.95L836.09 305.78L838.05 302.62L840.01 299.59L841.98 296.73L843.94 293.83L845.9 290.84L847.86 287.73L849.83 284.52L851.79 281.23L853.75 277.77L855.71 274.1L857.67 270.15L859.64 265.99L861.8 261.31L865.13 253.79L866.78 249.98L868.43 246.13L870.08 242.24L871.73 238.32L873.38 234.42L875.02 230.48L876.67 226.42L878.32 222.23L879.97 217.88L881.62 213.18L883.27 208.03L884.91 202.56L886.56 196.46L888.21 190.31L889.08 187.46L890.25 184.38L891.43 180.42L892.61 174.52L893.78 170.08L894.96 165.89L896.14 161.54L897.32 156.73L898.49 150.45L899.67 144.76L900.85 137.57L902.03 129.02L903.2 121.66L904.38 112.67L905.56 101.2L906.74 90.67L907.91 83.94L909.21 76.67L909.8 95L911.45 135.97L911.84 155.65L912.62 170.48L913.8 177.48L916.16 181.2L918.51 182.91L920.87 183.68L923.22 183.41L925.58 182.68L927.93 181.68L930.29 180.55L932.64 179.32L935 177.68L937.35 175.82L939.71 173.98L942.06 172.22L944.42 170.43L946.77 168.58L949.13 166.64L951.48 164.57L953.84 162.41L956.19 160.23L958.55 158.09L960.9 155.95L963.26 153.82L965.61 151.72L967.97 149.65L970.32 147.56L972.68 145.43L975.03 143.28L977.39 141.11L979.74 138.91L982.1 136.68L984.06 130.58L988.06 131.88L992.07 130.85L996.07 126.99L1000.07 122.51L1004.08 118.83L1008.08 115.12L1012.08 111.5L1016.09 107.98L1020.09 104.52L1024.1 101.12L1028.1 97.78L1032.1 94.47L1036.11 91.2L1040.11 87.97L1044.11 84.78L1048.12 81.65L1052.12 78.57L1056.12 75.55L1060.13 72.58L1064.13 69.64L1068.13 66.73L1072.14 63.83L1076.14 60.92L1080.14 58.01L1084.15 55.11L1088.15 52.23L1092.15 49.41L1096.16 46.65L1100.16 43.96L1104.17 41.34L1108.17 38.77L1112.17 36.23L1116.18 33.72L1120.18 31.21L1124.18 28.72L1128.19 26.25L1132.19 23.81L1136.74 21.06" fill="none" stroke="#0a800a" stroke-width="1.6"/>
<path d="M914.98 180.06L916.16 181.04L917.34 183.34L918.51 182.78L919.69 183.53L920.87 184.47L922.04 183.16L923.22 183.11L924.4 183.18L925.58 182.52L926.75 181.61L927.93 181.57L929.11 180.94L930.29 180.85L931.46 179.15L932.64 178.97L933.82 179.12L935 178.61L936.17 176.01L937.35 176.14L938.53 174.39L939.71 173.55L940.88 172.66L942.06 172.01L943.24 171.83L944.42 170.78L945.59 169.54L946.77 168.4L947.95 167.62L949.13 166.59L950.3 166.02L951.48 164.26L952.66 163.49L953.84 162.36L955.01 161.29L956.19 160.35L957.37 159.25L958.55 158.76L959.72 156.98L960.9 156.73L962.08 154.73L963.26 153.58L964.43 152.82L965.61 151.9L966.79 150.82L967.97 150.3L969.14 149.18L970.32 147.81L971.5 146.33L972.68 145.38L973.85 145.07L975.03 143.39L976.21 141.54L977.39 140.76L978.56 139.72L979.74 139.48L980.92 137.74" fill="none" stroke="#0b7f0b" stroke-width="9.6" stroke-linecap="round" stroke-linejoin="round"/>
<g><use href="#b" x="750.13" y="353.34"/><use href="#b" x="751.7" y="353.23"/><use href="#b" x="753.07" y="353.1"/><use href="#b" x="754.45" y="352.96"/><use href="#b" x="755.82" y="352.8"/><use href="#b" x="757" y="352.63"/><use href="#b" x="758.18" y="352.42"/><use href="#b" x="759.75" y="351.98"/><use href="#b" x="761.32" y="351.4"/><use href="#b" x="762.69" y="350.62"/><use href="#b" x="764.06" y="350.1"/><use href="#b" x="765.83" y="350.83"/><use href="#b" x="766.42" y="351.88"/><use href="#b" x="767.79" y="351.88"/><use href="#b" x="769.36" y="351.88"/><use href="#b" x="771.33" y="351.72"/><use href="#b" x="773.29" y="351.36"/><use href="#b" x="775.25" y="350.94"/><use href="#b" x="777.21" y="350.38"/><use href="#b" x="779.18" y="349.92"/><use href="#b" x="781.14" y="349.63"/><use href="#b" x="783.1" y="349.32"/><use href="#b" x="785.06" y="348.91"/><use href="#b" x="787.02" y="348.42"/><use href="#b" x="788.99" y="347.85"/><use href="#b" x="790.95" y="347.18"/><use href="#b" x="792.91" y="346.34"/><use href="#b" x="794.88" y="345.32"/><use href="#b" x="796.84" y="344.23"/><use href="#b" x="798.8" y="343.12"/><use href="#b" x="800.76" y="341.91"/><use href="#b" x="802.73" y="340.66"/><use href="#b" x="804.69" y="339.38"/><use href="#b" x="806.65" y="338.04"/><use href="#b" x="808.61" y="336.62"/><use href="#b" x="810.58" y="335.12"/><use href="#b" x="812.54" y="333.54"/><use href="#b" x="814.5" y="331.9"/><use href="#b" x="816.46" y="330.23"/><use href="#b" x="818.42" y="328.53"/><use href="#b" x="820.39" y="326.74"/><use href="#b" x="822.35" y="324.8"/><use href="#b" x="824.31" y="322.63"/><use href="#b" x="826.27" y="320.22"/><use href="#b" x="828.24" y="317.64"/><use href="#b" x="830.2" y="314.94"/><use href="#b" x="832.16" y="312.04"/><use href="#b" x="834.12" y="308.95"/><use href="#b" x="836.09" y="305.78"/><use href="#b" x="838.05" y="302.62"/><use href="#b" x="840.01" y="299.59"/><use href="#b" x="841.98" y="296.73"/><use href="#b" x="843.94" y="293.83"/><use href="#b" x="845.9" y="290.84"/><use href="#b" x="847.86" y="287.73"/><use href="#b" x="849.83" y="284.52"/><use href="#b" x="851.79" y="281.23"/><use href="#b" x="853.75" y="277.77"/><use href="#b" x="855.71" y="274.1"/><use href="#b" x="857.67" y="270.15"/><use href="#b" x="859.64" y="265.99"/><use href="#b" x="861.8" y="261.31"/><use href="#b" x="865.13" y="253.79"/><use href="#b" x="866.78" y="249.98"/><use href="#b" x="868.43" y="246.13"/><use href="#b" x="870.08" y="242.24"/><use href="#b" x="871.73" y="238.32"/><use href="#b" x="873.38" y="234.42"/><use href="#b" x="875.02" y="230.48"/><use href="#b" x="876.67" y="226.42"/><use href="#b" x="878.32" y="222.23"/><use href="#b" x="879.97" y="217.88"/><use href="#b" x="881.62" y="213.18"/><use href="#b" x="883.27" y="208.03"/><use href="#b" x="884.91" y="202.56"/><use href="#b" x="886.56" y="196.46"/><use href="#b" x="888.21" y="190.31"/><use href="#s" x="889.08" y="187.46"/><use href="#s" x="890.25" y="184.38"/><use href="#s" x="891.43" y="180.42"/><use href="#s" x="892.61" y="174.52"/><use href="#s" x="893.78" y="170.08"/><use href="#s" x="894.96" y="165.89"/><use href="#s" x="896.14" y="161.54"/><use href="#s" x="897.32" y="156.73"/><use href="#s" x="898.49" y="150.45"/><use href="#s" x="899.67" y="144.76"/><use href="#s" x="900.85" y="137.57"/><use href="#s" x="902.03" y="129.02"/><use href="#s" x="903.2" y="121.66"/><use href="#s" x="904.38" y="112.67"/><use href="#s" x="905.56" y="101.2"/><use href="#s" x="906.74" y="90.67"/><use href="#s" x="907.91" y="83.94"/><use href="#s" x="909.21" y="76.67"/><use href="#s" x="909.8" y="95"/><use href="#s" x="911.45" y="135.97"/><use href="#s" x="911.84" y="155.65"/><use href="#s" x="912.62" y="170.48"/><use href="#s" x="913.8" y="177.48"/><use href="#s" x="982.1" y="136.68"/><use href="#s" x="984.06" y="130.58"/><use href="#s" x="988.06" y="131.88"/><use href="#s" x="992.07" y="130.85"/><use href="#s" x="996.07" y="126.99"/><use href="#s" x="1000.07" y="122.51"/><use href="#s" x="1004.08" y="118.83"/><use href="#s" x="1008.08" y="115.12"/><use href="#s" x="1012.08" y="111.5"/><use href="#s" x="1016.09" y="107.98"/><use href="#s" x="1020.09" y="104.52"/><use href="#s" x="1024.1" y="101.12"/><use href="#s" x="1028.1" y="97.78"/><use href="#s" x="1032.1" y="94.47"/><use href="#s" x="1036.11" y="91.2"/><use href="#s" x="1040.11" y="87.97"/><use href="#s" x="1044.11" y="84.78"/><use href="#s" x="1048.12" y="81.65"/><use href="#s" x="1052.12" y="78.57"/><use href="#s" x="1056.12" y="75.55"/><use href="#s" x="1060.13" y="72.58"/><use href="#s" x="1064.13" y="69.64"/><use href="#s" x="1068.13" y="66.73"/><use href="#s" x="1072.14" y="63.83"/><use href="#s" x="1076.14" y="60.92"/><use href="#s" x="1080.14" y="58.01"/><use href="#s" x="1084.15" y="55.11"/><use href="#s" x="1088.15" y="52.23"/><use href="#s" x="1092.15" y="49.41"/><use href="#s" x="1096.16" y="46.65"/><use href="#s" x="1100.16" y="43.96"/><use href="#s" x="1104.17" y="41.34"/><use href="#s" x="1108.17" y="38.77"/><use href="#s" x="1112.17" y="36.23"/><use href="#s" x="1116.18" y="33.72"/><use href="#s" x="1120.18" y="31.21"/><use href="#s" x="1124.18" y="28.72"/><use href="#s" x="1128.19" y="26.25"/><use href="#s" x="1132.19" y="23.81"/><use href="#s" x="1136.74" y="21.06"/></g>
<g><use href="#h" x="750.13" y="353.34"/><use href="#h" x="751.7" y="353.23"/><use href="#h" x="753.07" y="353.1"/><use href="#h" x="754.45" y="352.96"/><use href="#h" x="755.82" y="352.8"/><use href="#h" x="757" y="352.63"/><use href="#h" x="758.18" y="352.42"/><use href="#h" x="759.75" y="351.98"/><use href="#h" x="761.32" y="351.4"/><use href="#h" x="762.69" y="350.62"/><use href="#h" x="764.06" y="350.1"/><use href="#h" x="765.83" y="350.83"/><use href="#h" x="766.42" y="351.88"/><use href="#h" x="767.79" y="351.88"/><use href="#h" x="769.36" y="351.88"/><use href="#h" x="771.33" y="351.72"/><use href="#h" x="773.29" y="351.36"/><use href="#h" x="775.25" y="350.94"/><use href="#h" x="777.21" y="350.38"/><use href="#h" x="779.18" y="349.92"/><use href="#h" x="781.14" y="349.63"/><use href="#h" x="783.1" y="349.32"/><use href="#h" x="785.06" y="348.91"/><use href="#h" x="787.02" y="348.42"/><use href="#h" x="788.99" y="347.85"/><use href="#h" x="790.95" y="347.18"/><use href="#h" x="792.91" y="346.34"/><use href="#h" x="794.88" y="345.32"/><use href="#h" x="796.84" y="344.23"/><use href="#h" x="798.8" y="343.12"/><use href="#h" x="800.76" y="341.91"/><use href="#h" x="802.73" y="340.66"/><use href="#h" x="804.69" y="339.38"/><use href="#h" x="806.65" y="338.04"/><use href="#h" x="808.61" y="336.62"/><use href="#h" x="810.58" y="335.12"/><use href="#h" x="812.54" y="333.54"/><use href="#h" x="814.5" y="331.9"/><use href="#h" x="816.46" y="330.23"/><use href="#h" x="818.42" y="328.53"/><use href="#h" x="820.39" y="326.74"/><use href="#h" x="822.35" y="324.8"/><use href="#h" x="824.31" y="322.63"/><use href="#h" x="826.27" y="320.22"/><use href="#h" x="828.24" y="317.64"/><use href="#h" x="830.2" y="314.94"/><use href="#h" x="832.16" y="312.04"/><use href="#h" x="834.12" y="308.95"/><use href="#h" x="836.09" y="305.78"/><use href="#h" x="838.05" y="302.62"/><use href="#h" x="840.01" y="299.59"/><use href="#h" x="841.98" y="296.73"/><use href="#h" x="843.94" y="293.83"/><use href="#h" x="845.9" y="290.84"/><use href="#h" x="847.86" y="287.73"/><use href="#h" x="849.83" y="284.52"/><use href="#h" x="851.79" y="281.23"/><use href="#h" x="853.75" y="277.77"/><use href="#h" x="855.71" y="274.1"/><use href="#h" x="857.67" y="270.15"/><use href="#h" x="859.64" y="265.99"/><use href="#h" x="861.8" y="261.31"/><use href="#h" x="865.13" y="253.79"/><use href="#h" x="866.78" y="249.98"/><use href="#h" x="868.43" y="246.13"/><use href="#h" x="870.08" y="242.24"/><use href="#h" x="871.73" y="238.32"/><use href="#h" x="873.38" y="234.42"/><use href="#h" x="875.02" y="230.48"/><use href="#h" x="876.67" y="226.42"/><use href="#h" x="878.32" y="222.23"/><use href="#h" x="879.97" y="217.88"/><use href="#h" x="881.62" y="213.18"/><use href="#h" x="883.27" y="208.03"/><use href="#h" x="884.91" y="202.56"/><use href="#h" x="886.56" y="196.46"/><use href="#h" x="888.21" y="190.31"/></g>
<path d="M749.74 353.49L751.7 353.47L753.66 353.45L755.62 353.41L757.59 353.35L759.55 353.28L761.51 353.18L763.48 353.07L765.44 352.92L767.4 352.75L769.36 352.55L771.33 352.31L773.29 352.04L775.25 351.73L777.21 351.37L779.18 350.97L781.14 350.53L783.1 350.04L785.06 349.49L787.02 348.89L788.99 348.24L790.95 347.52L792.91 346.75L794.88 345.91L796.84 345.01L798.8 344.05L800.76 343.02L802.73 341.93L804.69 340.77L806.65 339.54L808.61 338.26L810.58 336.9L812.54 335.49L814.5 334.02L816.46 332.48L818.42 330.89L820.39 329.25L822.35 327.55L824.31 325.8L826.27 324L828.24 322.16L830.2 320.28L832.16 318.35L834.12 316.39L836.09 314.39L838.05 312.35L840.01 310.28L841.98 308.19L843.94 306.06L845.9 303.91L847.86 301.74L849.83 299.54L851.79 297.33L853.75 295.09L855.71 292.83L857.67 290.56L859.64 288.28L861.6 285.98L863.56 283.66L865.52 281.21L867.49 278.75L869.45 276.28L871.41 273.8L873.38 271.32L875.34 268.82L877.3 266.32L879.26 263.81L881.23 261.29L883.19 258.77L885.15 256.25L887.11 253.72L889.08 251.19L891.04 248.65L893 246.12L894.96 243.58L896.92 241.04L898.89 238.5L900.85 235.98L902.81 233.48L904.77 230.99L906.74 228.49L908.7 226L910.66 223.51L912.62 221.02L914.59 218.53L916.55 216.05L918.51 213.58L920.48 211.1L922.44 208.64L924.4 206.17L926.36 203.72L928.33 201.28L930.29 198.86L932.25 196.44L934.21 194.02L936.17 191.62L938.14 189.22L940.1 186.83L942.06 184.45L944.02 182.08L945.99 179.72L947.95 177.37L949.91 175.03L951.88 172.85L953.84 170.67L955.8 168.51L957.76 166.36L959.73 164.23L961.69 162.1L963.65 159.99L965.61 157.88L967.58 155.8L969.54 153.72L971.5 151.65L973.46 149.6L975.42 147.56L977.39 145.54L979.35 143.53L981.31 141.53L983.28 139.55L985.24 137.58L987.2 135.62L989.16 133.68L991.12 131.75L993.09 129.84L995.05 127.94L997.01 126.05L998.98 124.18L1000.94 122.32L1002.9 120.47L1004.86 118.64L1006.83 116.82L1008.79 115.01L1010.75 113.22L1012.71 111.44L1014.67 109.68L1016.64 107.93L1018.6 106.2L1020.56 104.48L1022.53 102.78L1024.49 101.09L1026.45 99.42L1028.41 97.76L1030.38 96.11L1032.34 94.48L1034.3 92.87L1036.26 91.27L1038.22 89.68L1040.19 88.11L1042.15 86.55L1044.11 85.01L1046.08 83.48L1048.04 81.96L1050 80.46L1051.96 78.97L1053.92 77.5L1055.89 76.04L1057.85 74.6L1059.81 73.17L1061.78 71.75L1063.74 70.34L1065.7 68.95L1067.66 67.58L1069.62 66.21L1071.59 64.78L1073.55 63.34L1075.51 61.92L1077.47 60.51L1079.44 59.11L1081.4 57.72L1083.36 56.35L1085.33 54.99L1087.29 53.64L1089.25 52.31L1091.21 50.98L1093.17 49.67L1095.14 48.37L1097.1 47.09L1099.06 45.81L1101.03 44.55L1102.99 43.3L1104.95 42.06L1106.91 40.83L1108.88 39.61L1110.84 38.4L1112.8 37.21L1114.76 36.02L1116.72 34.85L1118.69 33.69L1120.65 32.54L1122.61 31.4L1124.58 30.27L1126.54 29.15L1128.5 28.04L1130.46 26.94L1132.42 25.85L1134.39 24.77L1136.35 23.7" fill="none" stroke="#f00" stroke-width="2.8"/>
<rect x="704.6" y="3.4" width="471" height="377" fill="none" stroke="#000" stroke-width="2.5" stroke-linejoin="miter"/>
<path d="M743.85 380.4v-8M743.85 3.4v8M822.35 380.4v-8M822.35 3.4v8M900.85 380.4v-8M900.85 3.4v8M979.35 380.4v-8M979.35 3.4v8M1057.85 380.4v-8M1057.85 3.4v8M1136.35 380.4v-8M1136.35 3.4v8M783.1 380.4v-4.2M783.1 3.4v4.2M861.6 380.4v-4.2M861.6 3.4v4.2M940.1 380.4v-4.2M940.1 3.4v4.2M1018.6 380.4v-4.2M1018.6 3.4v4.2M1097.1 380.4v-4.2M1097.1 3.4v4.2M704.6 353.5h8M1175.6 353.5h-8M704.6 299.59h8M1175.6 299.59h-8M704.6 245.68h8M1175.6 245.68h-8M704.6 191.77h8M1175.6 191.77h-8M704.6 137.86h8M1175.6 137.86h-8M704.6 83.95h8M1175.6 83.95h-8M704.6 30.04h8M1175.6 30.04h-8M704.6 380.45h4.2M1175.6 380.45h-4.2M704.6 326.55h4.2M1175.6 326.55h-4.2M704.6 272.63h4.2M1175.6 272.63h-4.2M704.6 218.72h4.2M1175.6 218.72h-4.2M704.6 164.81h4.2M1175.6 164.81h-4.2M704.6 110.91h4.2M1175.6 110.91h-4.2M704.6 57h4.2M1175.6 57h-4.2" stroke="#000" stroke-width="2.3" fill="none"/>
<text transform="translate(696 362.3) scale(1 1.055)" font-family="'Liberation Serif','Times New Roman',serif" font-size="28" font-weight="bold" text-anchor="end">0</text>
<text transform="translate(696 308.39) scale(1 1.055)" font-family="'Liberation Serif','Times New Roman',serif" font-size="28" font-weight="bold" text-anchor="end">20</text>
<text transform="translate(696 254.48) scale(1 1.055)" font-family="'Liberation Serif','Times New Roman',serif" font-size="28" font-weight="bold" text-anchor="end">40</text>
<text transform="translate(696 200.57) scale(1 1.055)" font-family="'Liberation Serif','Times New Roman',serif" font-size="28" font-weight="bold" text-anchor="end">60</text>
<text transform="translate(696 146.66) scale(1 1.055)" font-family="'Liberation Serif','Times New Roman',serif" font-size="28" font-weight="bold" text-anchor="end">80</text>
<text transform="translate(696 92.75) scale(1 1.055)" font-family="'Liberation Serif','Times New Roman',serif" font-size="28" font-weight="bold" text-anchor="end">100</text>
<text transform="translate(696 38.84) scale(1 1.055)" font-family="'Liberation Serif','Times New Roman',serif" font-size="28" font-weight="bold" text-anchor="end">120</text>
<text transform="translate(743.85 410.6) scale(1 1.055)" font-family="'Liberation Serif','Times New Roman',serif" font-size="28" font-weight="bold" text-anchor="middle">0</text>
<text transform="translate(822.35 410.6) scale(1 1.055)" font-family="'Liberation Serif','Times New Roman',serif" font-size="28" font-weight="bold" text-anchor="middle">20</text>
<text transform="translate(900.85 410.6) scale(1 1.055)" font-family="'Liberation Serif','Times New Roman',serif" font-size="28" font-weight="bold" text-anchor="middle">40</text>
<text transform="translate(979.35 410.6) scale(1 1.055)" font-family="'Liberation Serif','Times New Roman',serif" font-size="28" font-weight="bold" text-anchor="middle">60</text>
<text transform="translate(1057.85 410.6) scale(1 1.055)" font-family="'Liberation Serif','Times New Roman',serif" font-size="28" font-weight="bold" text-anchor="middle">80</text>
<text transform="translate(1136.35 410.6) scale(1 1.055)" font-family="'Liberation Serif','Times New Roman',serif" font-size="28" font-weight="bold" text-anchor="middle">100</text>
<text x="941" y="450.6" font-family="'Liberation Serif','Times New Roman',serif" font-size="33" font-weight="bold" text-anchor="middle"><tspan font-style="italic">T</tspan> (K)</text>
<text transform="translate(636 180) rotate(-90)" font-family="'Liberation Serif','Times New Roman',serif" font-size="33.7" font-weight="bold" text-anchor="middle"><tspan font-style="italic">C<tspan font-size="22" dy="7">p</tspan></tspan><tspan dy="-7"> (J. mol</tspan><tspan font-size="22" dy="-12">-1</tspan><tspan dy="12">. K</tspan><tspan font-size="22" dy="-12">-1</tspan><tspan dy="12">)</tspan></text>
<text x="613.5" y="31.6" font-family="'Liberation Sans',Arial,sans-serif" font-size="38" font-weight="bold" text-anchor="start">B</text>
<path d="M731.4 57H793.6" stroke="#0a800a" stroke-width="2.2" stroke-linecap="round"/><use href="#s" x="762.5" y="57"/>
<path d="M731.4 97.1H793.6" stroke="#f00" stroke-width="2.6" stroke-linecap="round"/>
<text x="800.8" y="66.6" font-family="'Liberation Serif','Times New Roman',serif" font-size="27" font-weight="bold">C<tspan font-size="19" dy="6.5">p</tspan></text>
<text x="800.8" y="106.3" font-family="'Liberation Serif','Times New Roman',serif" font-size="27" font-weight="bold">C<tspan font-size="19" dy="6.5">ph</tspan></text>
<text x="911.5" y="60.8" font-family="'Liberation Serif','Times New Roman',serif" font-size="20" font-weight="bold"><tspan font-style="italic">T</tspan><tspan font-size="13" dy="5.5">N1</tspan><tspan dy="-5.5"> = 42 K</tspan></text>
<text x="725.6" y="311" font-family="'Liberation Serif','Times New Roman',serif" font-size="20" font-weight="bold"><tspan font-style="italic">T</tspan><tspan font-size="13" dy="5.5">N2</tspan><tspan dy="-5.5"> = 5.5 K</tspan></text>
<path d="M1020.88 191.5V320.8M1118.97 191.5V320.8" stroke="#6a6a6a" stroke-width="1.8" stroke-dasharray="10 8.5"/>
<path d="M1010.4 308.6L1011.34 308.12L1012.28 307.61L1013.36 307L1014.16 306.57L1015.1 306.03L1015.91 305.45L1016.98 304.18L1018.06 302.6L1019 300.77L1019.94 299.62L1021.15 302.6L1021.42 305.88L1022.49 306.13L1022.92 306.17L1023.35 306.18L1023.78 306.18L1024.21 306.14L1024.64 306.06L1025.07 305.96L1025.5 305.84L1025.93 305.71L1026.36 305.58L1026.79 305.45L1027.22 305.31L1027.65 305.14L1028.08 304.95L1028.51 304.76L1028.94 304.57L1029.37 304.39L1029.8 304.22L1030.23 304.09L1030.66 303.96L1031.09 303.85L1031.52 303.74L1031.95 303.64L1032.38 303.53L1032.81 303.42L1033.24 303.3L1033.67 303.18L1034.1 303.06L1034.53 302.94L1034.96 302.82L1035.39 302.69L1035.82 302.56L1036.25 302.43L1036.68 302.29L1037.11 302.14L1037.54 301.98L1037.97 301.82L1038.4 301.64L1038.83 301.45L1039.26 301.24L1039.69 301.01L1040.12 300.78L1040.55 300.53L1040.98 300.28L1041.41 300.02L1041.84 299.76L1042.27 299.49L1042.7 299.23L1043.13 298.97L1043.56 298.69L1043.99 298.41L1044.42 298.12L1044.85 297.82L1045.28 297.52L1045.71 297.2L1046.14 296.87L1046.57 296.52L1047 296.18L1047.43 295.82L1047.86 295.47L1048.29 295.12L1048.72 294.78L1049.15 294.44L1049.58 294.12L1050.01 293.8L1050.44 293.5L1050.87 293.21L1051.3 292.93L1051.73 292.66L1052.16 292.39L1052.59 292.12L1053.02 291.85L1053.45 291.58L1053.88 291.31L1054.31 291.04L1054.74 290.76L1055.17 290.48L1055.6 290.2L1056.03 289.93L1056.46 289.65L1056.89 289.38L1057.32 289.11L1057.75 288.83L1058.18 288.54L1058.61 288.24L1059.04 287.93L1059.47 287.61L1059.9 287.27L1060.33 286.9L1060.76 286.51L1061.19 286.08L1061.62 285.62L1062.05 285.15L1062.48 284.66L1062.91 284.17L1063.34 283.67L1063.77 283.18L1064.2 282.7L1064.63 282.24L1065.06 281.8L1065.49 281.36L1065.92 280.93L1066.35 280.51L1066.78 280.08L1067.21 279.67L1067.64 279.25L1068.07 278.84L1068.5 278.42L1068.93 278.02L1069.36 277.61L1069.79 277.2L1070.22 276.8L1070.65 276.4L1071.08 276L1071.51 275.6L1071.94 275.2L1072.37 274.81L1072.8 274.41L1073.23 274.01L1073.66 273.62L1074.09 273.22L1074.52 272.83L1074.95 272.43L1075.38 272.04L1075.81 271.65L1076.24 271.26L1076.67 270.88L1077.1 270.49L1077.53 270.11L1077.96 269.72L1078.39 269.34L1078.82 268.96L1079.25 268.58L1079.68 268.2L1080.11 267.82L1080.54 267.44L1080.97 267.06L1081.4 266.67L1081.83 266.29L1082.26 265.91L1082.69 265.54L1083.12 265.17L1083.55 264.81L1083.98 264.46L1084.41 264.11L1084.84 263.75L1085.27 263.39L1085.7 263.03L1086.13 262.65L1086.56 262.26L1086.99 261.86L1087.42 261.44L1087.85 261.01L1088.28 260.55L1088.71 260.06L1089.14 259.54L1089.57 259L1090 258.43L1090.43 257.85L1090.86 257.26L1091.29 256.65L1091.72 256.03L1092.15 255.4L1092.58 254.77L1093.01 254.14L1093.44 253.51L1093.87 252.89L1094.3 252.27L1094.73 251.66L1095.16 251.06L1095.59 250.46L1096.02 249.87L1096.45 249.27L1096.88 248.67L1097.31 248.08L1097.74 247.48L1098.17 246.87L1098.6 246.26L1099.03 245.65L1099.46 245.03L1099.89 244.4L1100.32 243.76L1100.75 243.12L1101.18 242.46L1101.61 241.79L1102.04 241.1L1102.47 240.4L1102.9 239.69L1103.33 238.95L1103.76 238.2L1104.19 237.43L1104.62 236.64L1105.05 235.83L1105.48 235.01L1105.91 234.18L1106.34 233.34L1106.77 232.49L1107.2 231.63L1107.63 230.76L1108.06 229.89L1108.49 229.01L1108.92 228.13L1109.35 227.24L1109.78 226.35L1110.21 225.46L1110.64 224.56L1111.07 223.65L1111.5 222.73L1111.93 221.79L1112.36 220.84L1112.79 219.87L1113.22 218.88L1113.65 217.86L1114.08 216.82L1114.51 215.75L1114.94 214.61L1115.37 213.4L1115.8 212.18L1116.23 210.99L1116.66 209.83L1117.09 208.69L1117.52 207.56L1117.95 206.45L1118.38 205.34L1118.6 204.79L1120.05 212.14L1120.59 228.12L1121.26 235.9L1121.53 241.51L1122.6 246.7L1123.54 247.75L1123.97 248.17L1124.4 248.54L1124.83 248.83L1125.26 249.05L1125.69 249.25L1126.12 249.42L1126.55 249.58L1126.98 249.72L1127.41 249.85L1127.84 249.98L1128.27 250.12L1128.7 250.26L1129.13 250.4L1129.56 250.54L1129.99 250.68L1130.42 250.82L1130.85 250.95L1131.28 251.08L1131.71 251.21L1132.14 251.32L1132.57 251.43L1133 251.52L1133.43 251.61L1133.86 251.68L1134.29 251.75L1134.72 251.81L1135.15 251.87L1135.58 251.93L1136.01 251.98L1136.44 252.04L1136.87 252.08L1137.3 252.13L1137.73 252.17L1138.16 252.21L1138.59 252.24L1139.02 252.27L1139.45 252.3L1139.88 252.32L1140.31 252.35L1140.74 252.37L1141.17 252.39L1141.6 252.41L1142.03 252.43L1142.46 252.45L1142.89 252.47L1143.32 252.48L1143.75 252.5L1144.18 252.51L1144.61 252.52L1145.04 252.52L1145.47 252.53L1145.9 252.53L1146.33 252.53L1146.76 252.53L1147.19 252.53L1147.62 252.53L1148.05 252.53L1148.48 252.53L1148.91 252.53L1149.34 252.53L1149.77 252.53L1150.2 252.53L1150.63 252.53L1151.06 252.53L1151.49 252.53L1151.92 252.53" fill="none" stroke="#0b870b" stroke-width="1.2"/>
<g><use href="#t" x="1010.4" y="308.6"/><use href="#t" x="1011.34" y="308.12"/><use href="#t" x="1012.28" y="307.61"/><use href="#t" x="1013.36" y="307"/><use href="#t" x="1014.16" y="306.57"/><use href="#t" x="1015.1" y="306.03"/><use href="#t" x="1015.91" y="305.45"/><use href="#t" x="1016.98" y="304.18"/><use href="#t" x="1018.06" y="302.6"/><use href="#t" x="1019" y="300.77"/><use href="#t" x="1019.94" y="299.62"/><use href="#t" x="1021.15" y="302.6"/><use href="#t" x="1021.42" y="305.88"/><use href="#t" x="1022.49" y="306.13"/><use href="#t" x="1022.92" y="306.17"/><use href="#t" x="1023.35" y="306.18"/><use href="#t" x="1023.78" y="306.18"/><use href="#t" x="1024.21" y="306.14"/><use href="#t" x="1024.64" y="306.06"/><use href="#t" x="1025.07" y="305.96"/><use href="#t" x="1025.5" y="305.84"/><use href="#t" x="1025.93" y="305.71"/><use href="#t" x="1026.36" y="305.58"/><use href="#t" x="1026.79" y="305.45"/><use href="#t" x="1027.22" y="305.31"/><use href="#t" x="1027.65" y="305.14"/><use href="#t" x="1028.08" y="304.95"/><use href="#t" x="1028.51" y="304.76"/><use href="#t" x="1028.94" y="304.57"/><use href="#t" x="1029.37" y="304.39"/><use href="#t" x="1029.8" y="304.22"/><use href="#t" x="1030.23" y="304.09"/><use href="#t" x="1030.66" y="303.96"/><use href="#t" x="1031.09" y="303.85"/><use href="#t" x="1031.52" y="303.74"/><use href="#t" x="1031.95" y="303.64"/><use href="#t" x="1032.38" y="303.53"/><use href="#t" x="1032.81" y="303.42"/><use href="#t" x="1033.24" y="303.3"/><use href="#t" x="1033.67" y="303.18"/><use href="#t" x="1034.1" y="303.06"/><use href="#t" x="1034.53" y="302.94"/><use href="#t" x="1034.96" y="302.82"/><use href="#t" x="1035.39" y="302.69"/><use href="#t" x="1035.82" y="302.56"/><use href="#t" x="1036.25" y="302.43"/><use href="#t" x="1036.68" y="302.29"/><use href="#t" x="1037.11" y="302.14"/><use href="#t" x="1037.54" y="301.98"/><use href="#t" x="1037.97" y="301.82"/><use href="#t" x="1038.4" y="301.64"/><use href="#t" x="1038.83" y="301.45"/><use href="#t" x="1039.26" y="301.24"/><use href="#t" x="1039.69" y="301.01"/><use href="#t" x="1040.12" y="300.78"/><use href="#t" x="1040.55" y="300.53"/><use href="#t" x="1040.98" y="300.28"/><use href="#t" x="1041.41" y="300.02"/><use href="#t" x="1041.84" y="299.76"/><use href="#t" x="1042.27" y="299.49"/><use href="#t" x="1042.7" y="299.23"/><use href="#t" x="1043.13" y="298.97"/><use href="#t" x="1043.56" y="298.69"/><use href="#t" x="1043.99" y="298.41"/><use href="#t" x="1044.42" y="298.12"/><use href="#t" x="1044.85" y="297.82"/><use href="#t" x="1045.28" y="297.52"/><use href="#t" x="1045.71" y="297.2"/><use href="#t" x="1046.14" y="296.87"/><use href="#t" x="1046.57" y="296.52"/><use href="#t" x="1047" y="296.18"/><use href="#t" x="1047.43" y="295.82"/><use href="#t" x="1047.86" y="295.47"/><use href="#t" x="1048.29" y="295.12"/><use href="#t" x="1048.72" y="294.78"/><use href="#t" x="1049.15" y="294.44"/><use href="#t" x="1049.58" y="294.12"/><use href="#t" x="1050.01" y="293.8"/><use href="#t" x="1050.44" y="293.5"/><use href="#t" x="1050.87" y="293.21"/><use href="#t" x="1051.3" y="292.93"/><use href="#t" x="1051.73" y="292.66"/><use href="#t" x="1052.16" y="292.39"/><use href="#t" x="1052.59" y="292.12"/><use href="#t" x="1053.02" y="291.85"/><use href="#t" x="1053.45" y="291.58"/><use href="#t" x="1053.88" y="291.31"/><use href="#t" x="1054.31" y="291.04"/><use href="#t" x="1054.74" y="290.76"/><use href="#t" x="1055.17" y="290.48"/><use href="#t" x="1055.6" y="290.2"/><use href="#t" x="1056.03" y="289.93"/><use href="#t" x="1056.46" y="289.65"/><use href="#t" x="1056.89" y="289.38"/><use href="#t" x="1057.32" y="289.11"/><use href="#t" x="1057.75" y="288.83"/><use href="#t" x="1058.18" y="288.54"/><use href="#t" x="1058.61" y="288.24"/><use href="#t" x="1059.04" y="287.93"/><use href="#t" x="1059.47" y="287.61"/><use href="#t" x="1059.9" y="287.27"/><use href="#t" x="1060.33" y="286.9"/><use href="#t" x="1060.76" y="286.51"/><use href="#t" x="1061.19" y="286.08"/><use href="#t" x="1061.62" y="285.62"/><use href="#t" x="1062.05" y="285.15"/><use href="#t" x="1062.48" y="284.66"/><use href="#t" x="1062.91" y="284.17"/><use href="#t" x="1063.34" y="283.67"/><use href="#t" x="1063.77" y="283.18"/><use href="#t" x="1064.2" y="282.7"/><use href="#t" x="1064.63" y="282.24"/><use href="#t" x="1065.06" y="281.8"/><use href="#t" x="1065.49" y="281.36"/><use href="#t" x="1065.92" y="280.93"/><use href="#t" x="1066.35" y="280.51"/><use href="#t" x="1066.78" y="280.08"/><use href="#t" x="1067.21" y="279.67"/><use href="#t" x="1067.64" y="279.25"/><use href="#t" x="1068.07" y="278.84"/><use href="#t" x="1068.5" y="278.42"/><use href="#t" x="1068.93" y="278.02"/><use href="#t" x="1069.36" y="277.61"/><use href="#t" x="1069.79" y="277.2"/><use href="#t" x="1070.22" y="276.8"/><use href="#t" x="1070.65" y="276.4"/><use href="#t" x="1071.08" y="276"/><use href="#t" x="1071.51" y="275.6"/><use href="#t" x="1071.94" y="275.2"/><use href="#t" x="1072.37" y="274.81"/><use href="#t" x="1072.8" y="274.41"/><use href="#t" x="1073.23" y="274.01"/><use href="#t" x="1073.66" y="273.62"/><use href="#t" x="1074.09" y="273.22"/><use href="#t" x="1074.52" y="272.83"/><use href="#t" x="1074.95" y="272.43"/><use href="#t" x="1075.38" y="272.04"/><use href="#t" x="1075.81" y="271.65"/><use href="#t" x="1076.24" y="271.26"/><use href="#t" x="1076.67" y="270.88"/><use href="#t" x="1077.1" y="270.49"/><use href="#t" x="1077.53" y="270.11"/><use href="#t" x="1077.96" y="269.72"/><use href="#t" x="1078.39" y="269.34"/><use href="#t" x="1078.82" y="268.96"/><use href="#t" x="1079.25" y="268.58"/><use href="#t" x="1079.68" y="268.2"/><use href="#t" x="1080.11" y="267.82"/><use href="#t" x="1080.54" y="267.44"/><use href="#t" x="1080.97" y="267.06"/><use href="#t" x="1081.4" y="266.67"/><use href="#t" x="1081.83" y="266.29"/><use href="#t" x="1082.26" y="265.91"/><use href="#t" x="1082.69" y="265.54"/><use href="#t" x="1083.12" y="265.17"/><use href="#t" x="1083.55" y="264.81"/><use href="#t" x="1083.98" y="264.46"/><use href="#t" x="1084.41" y="264.11"/><use href="#t" x="1084.84" y="263.75"/><use href="#t" x="1085.27" y="263.39"/><use href="#t" x="1085.7" y="263.03"/><use href="#t" x="1086.13" y="262.65"/><use href="#t" x="1086.56" y="262.26"/><use href="#t" x="1086.99" y="261.86"/><use href="#t" x="1087.42" y="261.44"/><use href="#t" x="1087.85" y="261.01"/><use href="#t" x="1088.28" y="260.55"/><use href="#t" x="1088.71" y="260.06"/><use href="#t" x="1089.14" y="259.54"/><use href="#t" x="1089.57" y="259"/><use href="#t" x="1090" y="258.43"/><use href="#t" x="1090.43" y="257.85"/><use href="#t" x="1090.86" y="257.26"/><use href="#t" x="1091.29" y="256.65"/><use href="#t" x="1091.72" y="256.03"/><use href="#t" x="1092.15" y="255.4"/><use href="#t" x="1092.58" y="254.77"/><use href="#t" x="1093.01" y="254.14"/><use href="#t" x="1093.44" y="253.51"/><use href="#t" x="1093.87" y="252.89"/><use href="#t" x="1094.3" y="252.27"/><use href="#t" x="1094.73" y="251.66"/><use href="#t" x="1095.16" y="251.06"/><use href="#t" x="1095.59" y="250.46"/><use href="#t" x="1096.02" y="249.87"/><use href="#t" x="1096.45" y="249.27"/><use href="#t" x="1096.88" y="248.67"/><use href="#t" x="1097.31" y="248.08"/><use href="#t" x="1097.74" y="247.48"/><use href="#t" x="1098.17" y="246.87"/><use href="#t" x="1098.6" y="246.26"/><use href="#t" x="1099.03" y="245.65"/><use href="#t" x="1099.46" y="245.03"/><use href="#t" x="1099.89" y="244.4"/><use href="#t" x="1100.32" y="243.76"/><use href="#t" x="1100.75" y="243.12"/><use href="#t" x="1101.18" y="242.46"/><use href="#t" x="1101.61" y="241.79"/><use href="#t" x="1102.04" y="241.1"/><use href="#t" x="1102.47" y="240.4"/><use href="#t" x="1102.9" y="239.69"/><use href="#t" x="1103.33" y="238.95"/><use href="#t" x="1103.76" y="238.2"/><use href="#t" x="1104.19" y="237.43"/><use href="#t" x="1104.62" y="236.64"/><use href="#t" x="1105.05" y="235.83"/><use href="#t" x="1105.48" y="235.01"/><use href="#t" x="1105.91" y="234.18"/><use href="#t" x="1106.34" y="233.34"/><use href="#t" x="1106.77" y="232.49"/><use href="#t" x="1107.2" y="231.63"/><use href="#t" x="1107.63" y="230.76"/><use href="#t" x="1108.06" y="229.89"/><use href="#t" x="1108.49" y="229.01"/><use href="#t" x="1108.92" y="228.13"/><use href="#t" x="1109.35" y="227.24"/><use href="#t" x="1109.78" y="226.35"/><use href="#t" x="1110.21" y="225.46"/><use href="#t" x="1110.64" y="224.56"/><use href="#t" x="1111.07" y="223.65"/><use href="#t" x="1111.5" y="222.73"/><use href="#t" x="1111.93" y="221.79"/><use href="#t" x="1112.36" y="220.84"/><use href="#t" x="1112.79" y="219.87"/><use href="#t" x="1113.22" y="218.88"/><use href="#t" x="1113.65" y="217.86"/><use href="#t" x="1114.08" y="216.82"/><use href="#t" x="1114.51" y="215.75"/><use href="#t" x="1114.94" y="214.61"/><use href="#t" x="1115.37" y="213.4"/><use href="#t" x="1115.8" y="212.18"/><use href="#t" x="1116.23" y="210.99"/><use href="#t" x="1116.66" y="209.83"/><use href="#t" x="1117.09" y="208.69"/><use href="#t" x="1117.52" y="207.56"/><use href="#t" x="1117.95" y="206.45"/><use href="#t" x="1118.38" y="205.34"/><use href="#t" x="1118.6" y="204.79"/><use href="#t" x="1120.05" y="212.14"/><use href="#t" x="1120.59" y="228.12"/><use href="#t" x="1121.26" y="235.9"/><use href="#t" x="1121.53" y="241.51"/><use href="#t" x="1122.6" y="246.7"/><use href="#t" x="1123.54" y="247.75"/><use href="#t" x="1123.97" y="248.17"/><use href="#t" x="1124.4" y="248.54"/><use href="#t" x="1124.83" y="248.83"/><use href="#t" x="1125.26" y="249.05"/><use href="#t" x="1125.69" y="249.25"/><use href="#t" x="1126.12" y="249.42"/><use href="#t" x="1126.55" y="249.58"/><use href="#t" x="1126.98" y="249.72"/><use href="#t" x="1127.41" y="249.85"/><use href="#t" x="1127.84" y="249.98"/><use href="#t" x="1128.27" y="250.12"/><use href="#t" x="1128.7" y="250.26"/><use href="#t" x="1129.13" y="250.4"/><use href="#t" x="1129.56" y="250.54"/><use href="#t" x="1129.99" y="250.68"/><use href="#t" x="1130.42" y="250.82"/><use href="#t" x="1130.85" y="250.95"/><use href="#t" x="1131.28" y="251.08"/><use href="#t" x="1131.71" y="251.21"/><use href="#t" x="1132.14" y="251.32"/><use href="#t" x="1132.57" y="251.43"/><use href="#t" x="1133" y="251.52"/><use href="#t" x="1133.43" y="251.61"/><use href="#t" x="1133.86" y="251.68"/><use href="#t" x="1134.29" y="251.75"/><use href="#t" x="1134.72" y="251.81"/><use href="#t" x="1135.15" y="251.87"/><use href="#t" x="1135.58" y="251.93"/><use href="#t" x="1136.01" y="251.98"/><use href="#t" x="1136.44" y="252.04"/><use href="#t" x="1136.87" y="252.08"/><use href="#t" x="1137.3" y="252.13"/><use href="#t" x="1137.73" y="252.17"/><use href="#t" x="1138.16" y="252.21"/><use href="#t" x="1138.59" y="252.24"/><use href="#t" x="1139.02" y="252.27"/><use href="#t" x="1139.45" y="252.3"/><use href="#t" x="1139.88" y="252.32"/><use href="#t" x="1140.31" y="252.35"/><use href="#t" x="1140.74" y="252.37"/><use href="#t" x="1141.17" y="252.39"/><use href="#t" x="1141.6" y="252.41"/><use href="#t" x="1142.03" y="252.43"/><use href="#t" x="1142.46" y="252.45"/><use href="#t" x="1142.89" y="252.47"/><use href="#t" x="1143.32" y="252.48"/><use href="#t" x="1143.75" y="252.5"/><use href="#t" x="1144.18" y="252.51"/><use href="#t" x="1144.61" y="252.52"/><use href="#t" x="1145.04" y="252.52"/><use href="#t" x="1145.47" y="252.53"/><use href="#t" x="1145.9" y="252.53"/><use href="#t" x="1146.33" y="252.53"/><use href="#t" x="1146.76" y="252.53"/><use href="#t" x="1147.19" y="252.53"/><use href="#t" x="1147.62" y="252.53"/><use href="#t" x="1148.05" y="252.53"/><use href="#t" x="1148.48" y="252.53"/><use href="#t" x="1148.91" y="252.53"/><use href="#t" x="1149.34" y="252.53"/><use href="#t" x="1149.77" y="252.53"/><use href="#t" x="1150.2" y="252.53"/><use href="#t" x="1150.63" y="252.53"/><use href="#t" x="1151.06" y="252.53"/><use href="#t" x="1151.49" y="252.53"/><use href="#t" x="1151.92" y="252.53"/></g>
<rect x="992.6" y="191.5" width="160.8" height="129.3" fill="none" stroke="#000" stroke-width="2.4" stroke-linejoin="miter"/>
<path d="M1006.1 320.8v-6.8M1006.1 191.5v6.8M1059.85 320.8v-6.8M1059.85 191.5v6.8M1113.6 320.8v-6.8M1113.6 191.5v6.8M1032.97 320.8v-3.8M1032.97 191.5v3.8M1086.72 320.8v-3.8M1086.72 191.5v3.8M1140.47 320.8v-3.8M1140.47 191.5v3.8M992.6 310.2h6.8M1153.4 310.2h-6.8M992.6 267h6.8M1153.4 267h-6.8M992.6 223.8h6.8M1153.4 223.8h-6.8M992.6 288.6h3.8M1153.4 288.6h-3.8M992.6 245.4h3.8M1153.4 245.4h-3.8M992.6 202.2h3.8M1153.4 202.2h-3.8" stroke="#000" stroke-width="2.1" fill="none"/>
<text transform="translate(983.8 317) scale(1 1.055)" font-family="'Liberation Serif','Times New Roman',serif" font-size="21" font-weight="bold" text-anchor="end">0</text>
<text transform="translate(983.8 273.8) scale(1 1.055)" font-family="'Liberation Serif','Times New Roman',serif" font-size="21" font-weight="bold" text-anchor="end">1</text>
<text transform="translate(983.8 230.6) scale(1 1.055)" font-family="'Liberation Serif','Times New Roman',serif" font-size="21" font-weight="bold" text-anchor="end">2</text>
<text transform="translate(1006.1 347.2) scale(1 1.055)" font-family="'Liberation Serif','Times New Roman',serif" font-size="22" font-weight="bold" text-anchor="middle">0</text>
<text transform="translate(1059.85 347.2) scale(1 1.055)" font-family="'Liberation Serif','Times New Roman',serif" font-size="22" font-weight="bold" text-anchor="middle">20</text>
<text transform="translate(1113.6 347.2) scale(1 1.055)" font-family="'Liberation Serif','Times New Roman',serif" font-size="22" font-weight="bold" text-anchor="middle">40</text>
<text x="1073.7" y="370.3" font-family="'Liberation Serif','Times New Roman',serif" font-size="22.5" font-weight="bold" text-anchor="middle"><tspan font-style="italic">T</tspan> (K)</text>
<text transform="translate(958 264.7) rotate(-90)" font-family="'Liberation Serif','Times New Roman',serif" font-size="19.8" font-weight="bold" text-anchor="middle"><tspan font-style="italic">C<tspan font-size="13.5" dy="4.5">p</tspan><tspan dy="-4.5">/T</tspan></tspan> (J. mol<tspan font-size="13.5" dy="-8">-1</tspan><tspan dy="8">. K</tspan><tspan font-size="13.5" dy="-8">-2</tspan><tspan dy="8">)</tspan></text>
<path d="M1343.67 325.79L1346.18 323.27L1348.54 319.84L1350.11 316.41L1351.56 313.9L1353.45 307.04L1355.45 301.56L1358.35 292.41L1360.32 310.7L1361.49 323.27L1363.46 326.04L1365.5 328.32L1367.54 330.01L1369.58 331.22L1371.62 332.21L1373.66 333.09L1375.71 333.9L1377.75 334.58L1379.79 335.06L1381.83 335.48L1383.87 335.83L1385.91 336.04L1387.96 336.03L1390 335.72L1392.04 335.23L1394.08 334.7L1396.12 334.16L1398.16 333.54L1400.2 332.81L1402.25 331.95L1404.29 330.86L1406.33 329.43L1408.37 327.76L1410.41 326.01L1412.45 324.27L1414.49 322.4L1416.54 320.51L1418.58 318.64L1420.62 316.7L1422.66 314.63L1424.7 312.35L1426.74 309.87L1428.79 307.25L1430.83 304.57L1432.87 301.88L1434.91 299.14L1436.95 296.31L1438.99 293.36L1441.03 290.21L1443.08 286.85L1445.12 283.38L1447.16 279.89L1449.2 276.46L1451.24 273.03L1453.28 269.59L1455.33 266.13L1459.25 256.53L1462.78 249.67L1464.75 245.79L1468.28 235.96L1470.24 230.47L1472.21 224.99L1474.56 219.27L1476.92 213.1L1479.08 206.7L1481.24 199.84L1483.2 188.42L1484.77 180.42L1486.34 171.96L1488.3 164.42L1489.87 155.04L1490.66 147.27L1491.84 141.1L1493.41 134.93L1494.19 127.62L1495.37 120.07L1496.16 109.1L1496.94 98.36L1497.53 89.22L1498.12 72.76L1499.61 56.53L1500.71 41.22L1501.65 35.5L1502.83 76.64L1503.62 162.82L1504.79 203.5L1506.09 236.19L1506.36 255.39L1507.54 262.47L1508.72 269.79L1509.9 277.33L1511.07 280.96L1512.06 283.5L1513.04 286.72L1514.22 290.36L1515.79 294.02L1517.36 296.99L1520.1 300.98L1522.85 304.33L1525.6 307.32L1528.35 310.01L1531.1 312.61L1533.85 314.8L1536.59 316.24L1539.34 317.26L1542.09 318.16L1544.84 319.13L1547.59 320.13L1550.33 321.13L1553.08 322.28L1555.83 323.49L1558.58 324.59L1561.33 325.4L1564.08 325.89L1566.82 326.33L1569.57 326.7L1572.32 326.97L1575.07 327.13L1576.64 327.16L1560.15 329.21L1571.53 330.36L1577.42 326.93L1582.13 334.47L1586.06 334.6L1589.99 334.72L1593.91 334.85L1597.84 334.97L1601.76 335.09L1605.69 335.19L1609.62 335.26L1613.54 335.32L1617.47 335.39L1621.39 335.45L1625.32 335.52L1629.25 335.58L1633.17 335.6L1637.1 335.57L1641.03 335.53L1644.95 335.5L1648.88 335.47L1652.8 335.43L1656.73 335.4L1660.65 335.34L1664.58 335.26L1668.51 335.17L1672.43 335.09L1676.36 335L1680.29 334.91L1684.21 334.83L1688.14 334.74L1692.06 334.63L1695.99 334.5L1699.91 334.37L1703.84 334.23L1707.77 334.1L1711.69 333.97L1715.62 333.83L1719.55 333.7L1723.47 333.57L1727.4 333.44" fill="none" stroke="#0a800a" stroke-width="1.6"/>
<g><use href="#s" x="1343.67" y="325.79"/><use href="#s" x="1346.18" y="323.27"/><use href="#s" x="1348.54" y="319.84"/><use href="#s" x="1350.11" y="316.41"/><use href="#s" x="1351.56" y="313.9"/><use href="#s" x="1353.45" y="307.04"/><use href="#s" x="1355.45" y="301.56"/><use href="#s" x="1358.35" y="292.41"/><use href="#s" x="1360.32" y="310.7"/><use href="#s" x="1361.49" y="323.27"/><use href="#b" x="1363.46" y="326.04"/><use href="#b" x="1365.5" y="328.32"/><use href="#b" x="1367.54" y="330.01"/><use href="#b" x="1369.58" y="331.22"/><use href="#b" x="1371.62" y="332.21"/><use href="#b" x="1373.66" y="333.09"/><use href="#b" x="1375.71" y="333.9"/><use href="#b" x="1377.75" y="334.58"/><use href="#b" x="1379.79" y="335.06"/><use href="#b" x="1381.83" y="335.48"/><use href="#b" x="1383.87" y="335.83"/><use href="#b" x="1385.91" y="336.04"/><use href="#b" x="1387.96" y="336.03"/><use href="#b" x="1390" y="335.72"/><use href="#b" x="1392.04" y="335.23"/><use href="#b" x="1394.08" y="334.7"/><use href="#b" x="1396.12" y="334.16"/><use href="#b" x="1398.16" y="333.54"/><use href="#b" x="1400.2" y="332.81"/><use href="#b" x="1402.25" y="331.95"/><use href="#b" x="1404.29" y="330.86"/><use href="#b" x="1406.33" y="329.43"/><use href="#b" x="1408.37" y="327.76"/><use href="#b" x="1410.41" y="326.01"/><use href="#b" x="1412.45" y="324.27"/><use href="#b" x="1414.49" y="322.4"/><use href="#b" x="1416.54" y="320.51"/><use href="#b" x="1418.58" y="318.64"/><use href="#b" x="1420.62" y="316.7"/><use href="#b" x="1422.66" y="314.63"/><use href="#b" x="1424.7" y="312.35"/><use href="#b" x="1426.74" y="309.87"/><use href="#b" x="1428.79" y="307.25"/><use href="#b" x="1430.83" y="304.57"/><use href="#b" x="1432.87" y="301.88"/><use href="#b" x="1434.91" y="299.14"/><use href="#b" x="1436.95" y="296.31"/><use href="#b" x="1438.99" y="293.36"/><use href="#b" x="1441.03" y="290.21"/><use href="#b" x="1443.08" y="286.85"/><use href="#b" x="1445.12" y="283.38"/><use href="#b" x="1447.16" y="279.89"/><use href="#b" x="1449.2" y="276.46"/><use href="#b" x="1451.24" y="273.03"/><use href="#b" x="1453.28" y="269.59"/><use href="#b" x="1455.33" y="266.13"/><use href="#s" x="1459.25" y="256.53"/><use href="#s" x="1462.78" y="249.67"/><use href="#s" x="1464.75" y="245.79"/><use href="#s" x="1468.28" y="235.96"/><use href="#s" x="1470.24" y="230.47"/><use href="#s" x="1472.21" y="224.99"/><use href="#s" x="1474.56" y="219.27"/><use href="#s" x="1476.92" y="213.1"/><use href="#s" x="1479.08" y="206.7"/><use href="#s" x="1481.24" y="199.84"/><use href="#s" x="1483.2" y="188.42"/><use href="#s" x="1484.77" y="180.42"/><use href="#s" x="1486.34" y="171.96"/><use href="#s" x="1488.3" y="164.42"/><use href="#s" x="1489.87" y="155.04"/><use href="#s" x="1490.66" y="147.27"/><use href="#s" x="1491.84" y="141.1"/><use href="#s" x="1493.41" y="134.93"/><use href="#s" x="1494.19" y="127.62"/><use href="#s" x="1495.37" y="120.07"/><use href="#s" x="1496.16" y="109.1"/><use href="#s" x="1496.94" y="98.36"/><use href="#s" x="1497.53" y="89.22"/><use href="#s" x="1498.12" y="72.76"/><use href="#s" x="1499.61" y="56.53"/><use href="#s" x="1500.71" y="41.22"/><use href="#s" x="1501.65" y="35.5"/><use href="#s" x="1502.83" y="76.64"/><use href="#s" x="1503.62" y="162.82"/><use href="#s" x="1504.79" y="203.5"/><use href="#s" x="1506.09" y="236.19"/><use href="#s" x="1506.36" y="255.39"/><use href="#s" x="1507.54" y="262.47"/><use href="#s" x="1508.72" y="269.79"/><use href="#s" x="1509.9" y="277.33"/><use href="#s" x="1511.07" y="280.96"/><use href="#s" x="1512.06" y="283.5"/><use href="#s" x="1513.04" y="286.72"/><use href="#s" x="1514.22" y="290.36"/><use href="#s" x="1515.79" y="294.02"/><use href="#s" x="1517.36" y="296.99"/><use href="#s" x="1520.1" y="300.98"/><use href="#s" x="1522.85" y="304.33"/><use href="#s" x="1525.6" y="307.32"/><use href="#s" x="1528.35" y="310.01"/><use href="#s" x="1531.1" y="312.61"/><use href="#s" x="1533.85" y="314.8"/><use href="#s" x="1536.59" y="316.24"/><use href="#s" x="1539.34" y="317.26"/><use href="#s" x="1542.09" y="318.16"/><use href="#s" x="1544.84" y="319.13"/><use href="#s" x="1547.59" y="320.13"/><use href="#s" x="1550.33" y="321.13"/><use href="#s" x="1553.08" y="322.28"/><use href="#s" x="1555.83" y="323.49"/><use href="#s" x="1558.58" y="324.59"/><use href="#s" x="1561.33" y="325.4"/><use href="#s" x="1564.08" y="325.89"/><use href="#s" x="1566.82" y="326.33"/><use href="#s" x="1569.57" y="326.7"/><use href="#s" x="1572.32" y="326.97"/><use href="#s" x="1575.07" y="327.13"/><use href="#s" x="1576.64" y="327.16"/><use href="#s" x="1560.15" y="329.21"/><use href="#s" x="1571.53" y="330.36"/><use href="#s" x="1577.42" y="326.93"/><use href="#s" x="1582.13" y="334.47"/><use href="#s" x="1586.06" y="334.6"/><use href="#s" x="1589.99" y="334.72"/><use href="#s" x="1593.91" y="334.85"/><use href="#s" x="1597.84" y="334.97"/><use href="#s" x="1601.76" y="335.09"/><use href="#s" x="1605.69" y="335.19"/><use href="#s" x="1609.62" y="335.26"/><use href="#s" x="1613.54" y="335.32"/><use href="#s" x="1617.47" y="335.39"/><use href="#s" x="1621.39" y="335.45"/><use href="#s" x="1625.32" y="335.52"/><use href="#s" x="1629.25" y="335.58"/><use href="#s" x="1633.17" y="335.6"/><use href="#s" x="1637.1" y="335.57"/><use href="#s" x="1641.03" y="335.53"/><use href="#s" x="1644.95" y="335.5"/><use href="#s" x="1648.88" y="335.47"/><use href="#s" x="1652.8" y="335.43"/><use href="#s" x="1656.73" y="335.4"/><use href="#s" x="1660.65" y="335.34"/><use href="#s" x="1664.58" y="335.26"/><use href="#s" x="1668.51" y="335.17"/><use href="#s" x="1672.43" y="335.09"/><use href="#s" x="1676.36" y="335"/><use href="#s" x="1680.29" y="334.91"/><use href="#s" x="1684.21" y="334.83"/><use href="#s" x="1688.14" y="334.74"/><use href="#s" x="1692.06" y="334.63"/><use href="#s" x="1695.99" y="334.5"/><use href="#s" x="1699.91" y="334.37"/><use href="#s" x="1703.84" y="334.23"/><use href="#s" x="1707.77" y="334.1"/><use href="#s" x="1711.69" y="333.97"/><use href="#s" x="1715.62" y="333.83"/><use href="#s" x="1719.55" y="333.7"/><use href="#s" x="1723.47" y="333.57"/><use href="#s" x="1727.4" y="333.44"/></g>
<g><use href="#h" x="1363.46" y="326.04"/><use href="#h" x="1365.5" y="328.32"/><use href="#h" x="1367.54" y="330.01"/><use href="#h" x="1369.58" y="331.22"/><use href="#h" x="1371.62" y="332.21"/><use href="#h" x="1373.66" y="333.09"/><use href="#h" x="1375.71" y="333.9"/><use href="#h" x="1377.75" y="334.58"/><use href="#h" x="1379.79" y="335.06"/><use href="#h" x="1381.83" y="335.48"/><use href="#h" x="1383.87" y="335.83"/><use href="#h" x="1385.91" y="336.04"/><use href="#h" x="1387.96" y="336.03"/><use href="#h" x="1390" y="335.72"/><use href="#h" x="1392.04" y="335.23"/><use href="#h" x="1394.08" y="334.7"/><use href="#h" x="1396.12" y="334.16"/><use href="#h" x="1398.16" y="333.54"/><use href="#h" x="1400.2" y="332.81"/><use href="#h" x="1402.25" y="331.95"/><use href="#h" x="1404.29" y="330.86"/><use href="#h" x="1406.33" y="329.43"/><use href="#h" x="1408.37" y="327.76"/><use href="#h" x="1410.41" y="326.01"/><use href="#h" x="1412.45" y="324.27"/><use href="#h" x="1414.49" y="322.4"/><use href="#h" x="1416.54" y="320.51"/><use href="#h" x="1418.58" y="318.64"/><use href="#h" x="1420.62" y="316.7"/><use href="#h" x="1422.66" y="314.63"/><use href="#h" x="1424.7" y="312.35"/><use href="#h" x="1426.74" y="309.87"/><use href="#h" x="1428.79" y="307.25"/><use href="#h" x="1430.83" y="304.57"/><use href="#h" x="1432.87" y="301.88"/><use href="#h" x="1434.91" y="299.14"/><use href="#h" x="1436.95" y="296.31"/><use href="#h" x="1438.99" y="293.36"/><use href="#h" x="1441.03" y="290.21"/><use href="#h" x="1443.08" y="286.85"/><use href="#h" x="1445.12" y="283.38"/><use href="#h" x="1447.16" y="279.89"/><use href="#h" x="1449.2" y="276.46"/><use href="#h" x="1451.24" y="273.03"/><use href="#h" x="1453.28" y="269.59"/><use href="#h" x="1455.33" y="266.13"/></g>
<rect x="1297.5" y="3.4" width="471.1" height="377" fill="none" stroke="#000" stroke-width="2.5" stroke-linejoin="miter"/>
<path d="M1336.76 380.4v-8M1336.76 3.4v8M1415.28 380.4v-8M1415.28 3.4v8M1493.8 380.4v-8M1493.8 3.4v8M1572.32 380.4v-8M1572.32 3.4v8M1650.84 380.4v-8M1650.84 3.4v8M1729.36 380.4v-8M1729.36 3.4v8M1376.02 380.4v-4.2M1376.02 3.4v4.2M1454.54 380.4v-4.2M1454.54 3.4v4.2M1533.06 380.4v-4.2M1533.06 3.4v4.2M1611.58 380.4v-4.2M1611.58 3.4v4.2M1690.1 380.4v-4.2M1690.1 3.4v4.2M1297.5 334.7h8M1768.6 334.7h-8M1297.5 288.99h8M1768.6 288.99h-8M1297.5 243.27h8M1768.6 243.27h-8M1297.5 197.56h8M1768.6 197.56h-8M1297.5 151.84h8M1768.6 151.84h-8M1297.5 106.13h8M1768.6 106.13h-8M1297.5 60.42h8M1768.6 60.42h-8M1297.5 14.7h8M1768.6 14.7h-8M1297.5 357.56h4.2M1768.6 357.56h-4.2M1297.5 311.84h4.2M1768.6 311.84h-4.2M1297.5 266.13h4.2M1768.6 266.13h-4.2M1297.5 220.41h4.2M1768.6 220.41h-4.2M1297.5 174.7h4.2M1768.6 174.7h-4.2M1297.5 128.99h4.2M1768.6 128.99h-4.2M1297.5 83.27h4.2M1768.6 83.27h-4.2M1297.5 37.56h4.2M1768.6 37.56h-4.2" stroke="#000" stroke-width="2.3" fill="none"/>
<text transform="translate(1288.5 389.21) scale(1 1.055)" font-family="'Liberation Serif','Times New Roman',serif" font-size="28" font-weight="bold" text-anchor="end">-0.2</text>
<text transform="translate(1288.5 343.5) scale(1 1.055)" font-family="'Liberation Serif','Times New Roman',serif" font-size="28" font-weight="bold" text-anchor="end">0.0</text>
<text transform="translate(1288.5 297.79) scale(1 1.055)" font-family="'Liberation Serif','Times New Roman',serif" font-size="28" font-weight="bold" text-anchor="end">0.2</text>
<text transform="translate(1288.5 252.07) scale(1 1.055)" font-family="'Liberation Serif','Times New Roman',serif" font-size="28" font-weight="bold" text-anchor="end">0.4</text>
<text transform="translate(1288.5 206.36) scale(1 1.055)" font-family="'Liberation Serif','Times New Roman',serif" font-size="28" font-weight="bold" text-anchor="end">0.6</text>
<text transform="translate(1288.5 160.64) scale(1 1.055)" font-family="'Liberation Serif','Times New Roman',serif" font-size="28" font-weight="bold" text-anchor="end">0.8</text>
<text transform="translate(1288.5 114.93) scale(1 1.055)" font-family="'Liberation Serif','Times New Roman',serif" font-size="28" font-weight="bold" text-anchor="end">1.0</text>
<text transform="translate(1288.5 69.22) scale(1 1.055)" font-family="'Liberation Serif','Times New Roman',serif" font-size="28" font-weight="bold" text-anchor="end">1.2</text>
<text transform="translate(1288.5 23.5) scale(1 1.055)" font-family="'Liberation Serif','Times New Roman',serif" font-size="28" font-weight="bold" text-anchor="end">1.4</text>
<text transform="translate(1336.76 410.6) scale(1 1.055)" font-family="'Liberation Serif','Times New Roman',serif" font-size="28" font-weight="bold" text-anchor="middle">0</text>
<text transform="translate(1415.28 410.6) scale(1 1.055)" font-family="'Liberation Serif','Times New Roman',serif" font-size="28" font-weight="bold" text-anchor="middle">20</text>
<text transform="translate(1493.8 410.6) scale(1 1.055)" font-family="'Liberation Serif','Times New Roman',serif" font-size="28" font-weight="bold" text-anchor="middle">40</text>
<text transform="translate(1572.32 410.6) scale(1 1.055)" font-family="'Liberation Serif','Times New Roman',serif" font-size="28" font-weight="bold" text-anchor="middle">60</text>
<text transform="translate(1650.84 410.6) scale(1 1.055)" font-family="'Liberation Serif','Times New Roman',serif" font-size="28" font-weight="bold" text-anchor="middle">80</text>
<text transform="translate(1729.36 410.6) scale(1 1.055)" font-family="'Liberation Serif','Times New Roman',serif" font-size="28" font-weight="bold" text-anchor="middle">100</text>
<text x="1534.2" y="450.6" font-family="'Liberation Serif','Times New Roman',serif" font-size="33" font-weight="bold" text-anchor="middle"><tspan font-style="italic">T</tspan> (K)</text>
<text transform="translate(1229.7 190.9) rotate(-90)" font-family="'Liberation Serif','Times New Roman',serif" font-size="33.7" font-weight="bold" text-anchor="middle"><tspan font-style="italic">C<tspan font-size="22" dy="7">mag</tspan><tspan dy="-7">/T</tspan></tspan> (J.mol<tspan font-size="22" dy="-12">-1</tspan><tspan dy="12">.K</tspan><tspan font-size="22" dy="-12">-2</tspan><tspan dy="12">)</tspan></text>
<text x="1199" y="32.3" font-family="'Liberation Sans',Arial,sans-serif" font-size="38" font-weight="bold" text-anchor="start">C</text>
<rect x="1569" y="46.6" width="177.8" height="142.7" fill="none" stroke="#000" stroke-width="2.4" stroke-linejoin="miter"/>
<path d="M1584.8 189.3v-6.8M1584.8 46.6v6.8M1625.35 189.3v-6.8M1625.35 46.6v6.8M1665.9 189.3v-6.8M1665.9 46.6v6.8M1706.45 189.3v-6.8M1706.45 46.6v6.8M1605.08 189.3v-3.8M1605.08 46.6v3.8M1645.62 189.3v-3.8M1645.62 46.6v3.8M1686.17 189.3v-3.8M1686.17 46.6v3.8M1726.72 189.3v-3.8M1726.72 46.6v3.8M1569 179h6.8M1746.8 179h-6.8M1569 140.53h6.8M1746.8 140.53h-6.8M1569 102.06h6.8M1746.8 102.06h-6.8M1569 63.6h6.8M1746.8 63.6h-6.8M1569 159.77h3.8M1746.8 159.77h-3.8M1569 121.3h3.8M1746.8 121.3h-3.8M1569 82.83h3.8M1746.8 82.83h-3.8" stroke="#000" stroke-width="2.1" fill="none"/>
<path d="M1569 63.6H1669.14" stroke="#f00" stroke-width="3.4" stroke-dasharray="3.6 4.1"/>
<path d="M1585.94 179L1586.34 178.95L1586.75 178.88L1587.15 178.78L1587.56 178.67L1587.96 178.54L1588.37 178.4L1588.77 178.2L1589.18 177.96L1589.58 177.69L1589.99 177.42L1590.4 177.14L1590.8 176.87L1591.21 176.64L1591.61 176.42L1592.02 176.2L1592.42 175.98L1592.83 175.76L1593.23 175.56L1593.64 175.37L1594.05 175.2L1594.45 175.06L1594.86 174.96L1595.26 174.88L1595.67 174.81L1596.07 174.74L1596.48 174.69L1596.88 174.64L1597.29 174.6L1597.69 174.58L1598.1 174.57L1598.51 174.55L1598.91 174.54L1599.32 174.53L1599.72 174.52L1600.13 174.52L1600.53 174.51L1600.94 174.5L1601.34 174.5L1601.75 174.49L1602.16 174.49L1602.56 174.48L1602.97 174.48L1603.37 174.48L1603.78 174.48L1604.18 174.48L1604.59 174.48L1604.99 174.48L1605.4 174.48L1605.8 174.48L1606.21 174.48L1606.62 174.48L1607.02 174.48L1607.43 174.48L1607.83 174.48L1608.24 174.48L1608.64 174.48L1609.05 174.48L1609.45 174.48L1609.86 174.47L1610.27 174.45L1610.67 174.43L1611.08 174.4L1611.48 174.37L1611.89 174.33L1612.29 174.29L1612.7 174.24L1613.1 174.19L1613.51 174.14L1613.91 174.08L1614.32 174.02L1614.73 173.96L1615.13 173.86L1615.54 173.73L1615.94 173.58L1616.35 173.41L1616.75 173.22L1617.16 173.02L1617.56 172.8L1617.97 172.58L1618.38 172.35L1618.78 172.12L1619.19 171.89L1619.59 171.63L1620 171.36L1620.4 171.07L1620.81 170.77L1621.21 170.45L1621.62 170.12L1622.02 169.77L1622.43 169.42L1622.84 169.07L1623.24 168.7L1623.65 168.33L1624.05 167.96L1624.46 167.59L1624.86 167.23L1625.27 166.86L1625.67 166.5L1626.08 166.14L1626.49 165.78L1626.89 165.42L1627.3 165.06L1627.7 164.69L1628.11 164.31L1628.51 163.93L1628.92 163.53L1629.32 163.12L1629.73 162.7L1630.13 162.26L1630.54 161.81L1630.95 161.35L1631.35 160.88L1631.76 160.39L1632.16 159.9L1632.57 159.39L1632.97 158.86L1633.38 158.31L1633.78 157.74L1634.19 157.15L1634.6 156.54L1635 155.9L1635.41 155.23L1635.81 154.53L1636.22 153.76L1636.62 152.93L1637.03 152.06L1637.43 151.14L1637.84 150.18L1638.24 149.2L1638.65 148.2L1639.06 147.18L1639.46 146.17L1639.87 145.16L1640.27 144.15L1640.68 143.13L1641.08 142.09L1641.49 141.03L1641.89 139.95L1642.3 138.86L1642.71 137.74L1643.11 136.59L1643.52 135.43L1643.92 134.24L1644.33 133.05L1644.73 131.85L1645.14 130.62L1645.54 129.34L1645.95 127.99L1646.35 126.57L1646.76 125.05L1647.17 123.38L1647.57 121.55L1647.98 119.59L1648.38 117.55L1648.79 115.47L1649.19 113.36L1649.6 111.2L1650 108.93L1650.41 106.5L1650.82 103.85L1651.22 100.88L1651.63 97.67L1652.03 94.37L1652.44 90.73L1652.84 87.27L1653.25 84.46L1653.65 81.97L1654.06 79.94L1654.46 78.27L1654.87 76.83L1655.28 75.77L1655.68 75.07L1656.09 74.46L1656.49 73.92L1656.9 73.45L1657.3 73.02L1657.71 72.65L1658.11 72.3L1658.52 71.97L1658.93 71.66L1659.33 71.35L1659.74 71.04L1660.14 70.75L1660.55 70.47L1660.95 70.2L1661.36 69.94L1661.76 69.69L1662.17 69.46L1662.57 69.23L1662.98 69.01L1663.39 68.8L1663.79 68.59L1664.2 68.39L1664.6 68.19L1665.01 68L1665.41 67.81L1665.82 67.62L1666.22 67.43L1666.63 67.25L1667.04 67.07L1667.44 66.89L1667.85 66.72L1668.25 66.54L1668.66 66.38L1669.06 66.21L1669.47 66.05L1669.87 65.89L1670.28 65.74L1670.68 65.59L1671.09 65.45L1671.5 65.31L1671.9 65.17L1672.31 65.04L1672.71 64.92L1673.12 64.8L1673.52 64.69L1673.93 64.58L1674.33 64.48L1674.74 64.38L1675.15 64.28L1675.55 64.18L1675.96 64.09L1676.36 63.99L1676.77 63.9L1677.17 63.82L1677.58 63.74L1677.98 63.66L1678.39 63.58L1678.79 63.5L1679.2 63.43L1679.61 63.37L1680.01 63.31L1680.42 63.25L1680.82 63.19L1681.23 63.14L1681.63 63.1L1682.04 63.05L1682.44 63.01L1682.85 62.96L1683.26 62.92L1683.66 62.87L1684.07 62.83L1684.47 62.79L1684.88 62.75L1685.28 62.71L1685.69 62.67L1686.09 62.64L1686.5 62.6L1686.9 62.57L1687.31 62.54L1687.72 62.52L1688.12 62.5L1688.53 62.48L1688.93 62.46L1689.34 62.45L1689.74 62.45L1690.15 62.44L1690.55 62.44L1690.96 62.44L1691.37 62.44L1691.77 62.44L1692.18 62.44L1692.58 62.44L1692.99 62.44L1693.39 62.44L1693.8 62.44L1694.2 62.44L1694.61 62.44L1695.01 62.44L1695.42 62.44L1695.83 62.44L1696.23 62.44L1696.64 62.44L1697.04 62.44L1697.45 62.44L1697.85 62.44L1698.26 62.44L1698.66 62.44L1699.07 62.44L1699.48 62.44L1699.88 62.44L1700.29 62.44L1700.69 62.44L1701.1 62.44L1701.5 62.44L1701.91 62.44L1702.31 62.44L1702.72 62.44L1703.12 62.45L1703.53 62.46L1703.94 62.46L1704.34 62.47L1704.75 62.49L1705.15 62.5L1705.56 62.51L1705.96 62.53L1706.37 62.55L1706.77 62.57L1707.18 62.59L1707.59 62.61L1707.99 62.63L1708.4 62.66L1708.8 62.68L1709.21 62.7L1709.61 62.73L1710.02 62.76L1710.42 62.78L1710.83 62.81L1711.23 62.84L1711.64 62.87L1712.05 62.89L1712.45 62.92L1712.86 62.95L1713.26 62.98L1713.67 63.01L1714.07 63.03L1714.48 63.06L1714.88 63.09L1715.29 63.12L1715.7 63.14L1716.1 63.17L1716.51 63.19L1716.91 63.21L1717.32 63.24L1717.72 63.26L1718.13 63.28L1718.53 63.3L1718.94 63.31L1719.34 63.33L1719.75 63.35L1720.16 63.36L1720.56 63.37L1720.97 63.38L1721.37 63.39L1721.78 63.4L1722.18 63.4L1722.59 63.4L1722.99 63.4L1723.4 63.4L1723.81 63.4L1724.21 63.4L1724.62 63.4L1725.02 63.4L1725.43 63.4L1725.83 63.4L1726.24 63.39L1726.64 63.39L1727.05 63.39L1727.45 63.39L1727.86 63.38L1728.27 63.38L1728.67 63.37L1729.08 63.37L1729.48 63.36L1729.89 63.36L1730.29 63.35L1730.7 63.35L1731.1 63.34L1731.51 63.33L1731.92 63.33L1732.32 63.32L1732.73 63.31L1733.13 63.3L1733.54 63.29L1733.94 63.28L1734.35 63.27L1734.75 63.26L1735.16 63.25L1735.56 63.24L1735.97 63.23L1736.38 63.21L1736.78 63.2L1737.19 63.19L1737.59 63.17L1738 63.16L1738.4 63.14L1738.81 63.13L1739.21 63.11L1739.62 63.09L1740.03 63.07L1740.43 63.05L1740.84 63.04L1741.24 63.02L1741.65 62.99L1742.05 62.97L1742.46 62.95L1742.86 62.93L1743.27 62.91L1743.67 62.88L1744.08 62.86L1744.49 62.83" fill="none" stroke="#000080" stroke-width="8.2" stroke-linecap="round" stroke-linejoin="round"/>
<circle cx="1744.57" cy="62.83" r="2.9" fill="#fff" stroke="#000080" stroke-width="2.2"/>
<path d="M1575.8 54.6V72.6M1575.8 55.4H1587.8M1569 63.6H1586" stroke="#000" stroke-width="2"/>
<text transform="translate(1560 187.4) scale(1 1.0)" font-family="'Liberation Serif','Times New Roman',serif" font-size="22" font-weight="bold" text-anchor="end">0</text>
<text transform="translate(1560 148.93) scale(1 1.0)" font-family="'Liberation Serif','Times New Roman',serif" font-size="22" font-weight="bold" text-anchor="end">4</text>
<text transform="translate(1560 110.46) scale(1 1.0)" font-family="'Liberation Serif','Times New Roman',serif" font-size="22" font-weight="bold" text-anchor="end">8</text>
<text transform="translate(1560 72) scale(1 1.0)" font-family="'Liberation Serif','Times New Roman',serif" font-size="22" font-weight="bold" text-anchor="end">12</text>
<text transform="translate(1584.8 215.2) scale(1 1.055)" font-family="'Liberation Serif','Times New Roman',serif" font-size="23" font-weight="bold" text-anchor="middle">0</text>
<text transform="translate(1625.35 215.2) scale(1 1.055)" font-family="'Liberation Serif','Times New Roman',serif" font-size="23" font-weight="bold" text-anchor="middle">25</text>
<text transform="translate(1665.9 215.2) scale(1 1.055)" font-family="'Liberation Serif','Times New Roman',serif" font-size="23" font-weight="bold" text-anchor="middle">50</text>
<text transform="translate(1706.45 215.2) scale(1 1.055)" font-family="'Liberation Serif','Times New Roman',serif" font-size="23" font-weight="bold" text-anchor="middle">75</text>
<text transform="translate(1747 215.2) scale(1 1.055)" font-family="'Liberation Serif','Times New Roman',serif" font-size="23" font-weight="bold" text-anchor="middle">100</text>
<text x="1658.5" y="239.5" font-family="'Liberation Serif','Times New Roman',serif" font-size="23" font-weight="bold" text-anchor="middle"><tspan font-style="italic">T</tspan> (K)</text>
<text transform="translate(1534.5 109.7) rotate(-90)" font-family="'Liberation Serif','Times New Roman',serif" font-size="19" font-weight="bold" text-anchor="middle"><tspan font-style="italic">&#916;S<tspan font-size="13" dy="4.5">mag</tspan></tspan><tspan dy="-4.5"> (J. mol</tspan><tspan font-size="13" dy="-8">-1</tspan><tspan dy="8">. K</tspan><tspan font-size="13" dy="-8">-1</tspan><tspan dy="8">)</tspan></text>
</svg></body></html>
